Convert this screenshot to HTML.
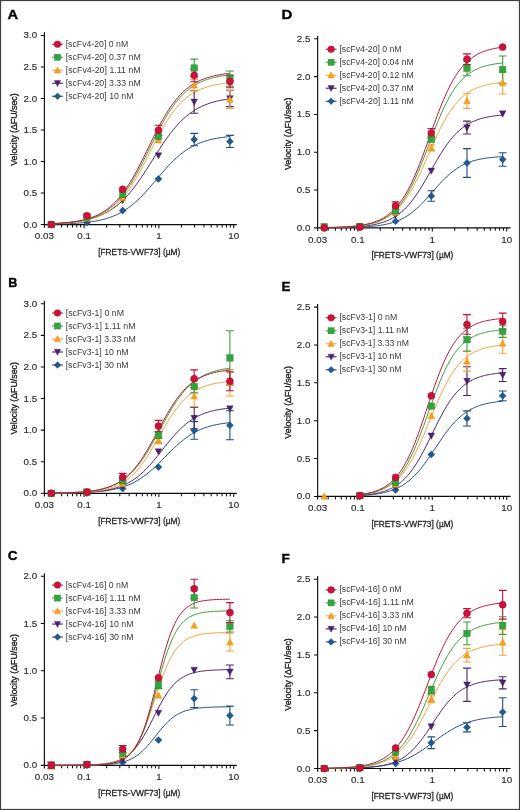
<!DOCTYPE html>
<html><head><meta charset="utf-8"><style>
html,body{margin:0;padding:0;background:#fff;}
svg{display:block;will-change:transform;font-family:"Liberation Sans",sans-serif;}
</style></head><body>
<svg width="520" height="810" viewBox="0 0 520 810">
<rect x="0.5" y="0.5" width="519" height="809" fill="#fff" stroke="#404040" stroke-width="1.25"/>
<g id="pA">
<text transform="translate(7.6 19.0) scale(1.08 1)" font-size="13.6" font-weight="bold" fill="#000" stroke="#000" stroke-width="0.35">A</text>
<path d="M44.4 32.3V227.75M44.4 224.55H236.8" stroke="#0d0d0d" stroke-width="1.15" fill="none"/>
<path d="M40.8 224.55H44.4M40.8 193.03H44.4M40.8 161.5H44.4M40.8 129.98H44.4M40.8 98.45H44.4M40.8 66.93H44.4M40.8 35.4H44.4M54.33 224.55v3.0M61.58 224.55v3.0M67.51 224.55v3.0M72.51 224.55v3.0M76.85 224.55v3.0M80.68 224.55v3.0M84.1 224.55v3.7M106.62 224.55v3.0M119.79 224.55v3.0M129.13 224.55v3.0M136.38 224.55v3.0M142.31 224.55v3.0M147.31 224.55v3.0M151.65 224.55v3.0M155.48 224.55v3.0M158.9 224.55v3.7M181.42 224.55v3.0M194.59 224.55v3.0M203.93 224.55v3.0M211.18 224.55v3.0M217.11 224.55v3.0M222.11 224.55v3.0M226.45 224.55v3.0M230.28 224.55v3.0M233.7 224.55v3.7" stroke="#0d0d0d" stroke-width="1.05" fill="none"/>
<text x="37.199999999999996" y="227.6" font-size="9.8" text-anchor="end" fill="#2b2b2b" stroke="#2b2b2b" stroke-width="0.15">0.0</text>
<text x="37.199999999999996" y="196.08" font-size="9.8" text-anchor="end" fill="#2b2b2b" stroke="#2b2b2b" stroke-width="0.15">0.5</text>
<text x="37.199999999999996" y="164.55" font-size="9.8" text-anchor="end" fill="#2b2b2b" stroke="#2b2b2b" stroke-width="0.15">1.0</text>
<text x="37.199999999999996" y="133.03" font-size="9.8" text-anchor="end" fill="#2b2b2b" stroke="#2b2b2b" stroke-width="0.15">1.5</text>
<text x="37.199999999999996" y="101.5" font-size="9.8" text-anchor="end" fill="#2b2b2b" stroke="#2b2b2b" stroke-width="0.15">2.0</text>
<text x="37.199999999999996" y="69.98" font-size="9.8" text-anchor="end" fill="#2b2b2b" stroke="#2b2b2b" stroke-width="0.15">2.5</text>
<text x="37.199999999999996" y="38.45" font-size="9.8" text-anchor="end" fill="#2b2b2b" stroke="#2b2b2b" stroke-width="0.15">3.0</text>
<text x="44.4" y="239.4" font-size="9.8" text-anchor="middle" fill="#2b2b2b" stroke="#2b2b2b" stroke-width="0.15">0.03</text>
<text x="84.1" y="239.4" font-size="9.8" text-anchor="middle" fill="#2b2b2b" stroke="#2b2b2b" stroke-width="0.15">0.1</text>
<text x="158.9" y="239.4" font-size="9.8" text-anchor="middle" fill="#2b2b2b" stroke="#2b2b2b" stroke-width="0.15">1</text>
<text x="233.7" y="239.4" font-size="9.8" text-anchor="middle" fill="#2b2b2b" stroke="#2b2b2b" stroke-width="0.15">10</text>
<text x="139.2" y="254.95" font-size="9.7" text-anchor="middle" fill="#222" stroke="#222" stroke-width="0.3" textLength="82" lengthAdjust="spacingAndGlyphs">[FRETS-VWF73] (µM)</text>
<text transform="translate(17.2 129.55) rotate(-90)" x="0" y="0" font-size="9.4" text-anchor="middle" fill="#222" stroke="#222" stroke-width="0.35" textLength="72.5" lengthAdjust="spacingAndGlyphs">Velocity (ΔFU/sec)</text>
<polyline points="51.21,224.2 52.7,224.17 54.19,224.14 55.68,224.11 57.17,224.07 58.65,224.03 60.14,223.99 61.63,223.94 63.12,223.9 64.61,223.84 66.1,223.79 67.59,223.72 69.08,223.66 70.57,223.58 72.06,223.51 73.55,223.42 75.04,223.33 76.53,223.23 78.02,223.13 79.5,223.01 80.99,222.89 82.48,222.76 83.97,222.61 85.46,222.46 86.95,222.29 88.44,222.11 89.93,221.92 91.42,221.71 92.91,221.49 94.4,221.25 95.89,220.99 97.38,220.71 98.87,220.41 100.35,220.09 101.84,219.74 103.33,219.37 104.82,218.98 106.31,218.55 107.8,218.1 109.29,217.61 110.78,217.09 112.27,216.54 113.76,215.95 115.25,215.32 116.74,214.64 118.23,213.93 119.72,213.17 121.2,212.37 122.69,211.52 124.18,210.62 125.67,209.67 127.16,208.67 128.65,207.62 130.14,206.51 131.63,205.35 133.12,204.14 134.61,202.88 136.1,201.56 137.59,200.19 139.08,198.77 140.57,197.31 142.05,195.79 143.54,194.24 145.03,192.64 146.52,191.01 148.01,189.34 149.5,187.65 150.99,185.93 152.48,184.19 153.97,182.44 155.46,180.68 156.95,178.92 158.44,177.16 159.93,175.41 161.42,173.67 162.9,171.94 164.39,170.25 165.88,168.57 167.37,166.94 168.86,165.33 170.35,163.77 171.84,162.25 173.33,160.77 174.82,159.35 176.31,157.97 177.8,156.64 179.29,155.37 180.78,154.15 182.27,152.98 183.75,151.87 185.24,150.81 186.73,149.8 188.22,148.84 189.71,147.93 191.2,147.07 192.69,146.26 194.18,145.5 195.67,144.78 197.16,144.1 198.65,143.46 200.14,142.86 201.63,142.3 203.12,141.78 204.6,141.29 206.09,140.83 207.58,140.4 209.07,139.99 210.56,139.62 212.05,139.27 213.54,138.95 215.03,138.64 216.52,138.36 218.01,138.1 219.5,137.86 220.99,137.63 222.48,137.42 223.97,137.22 225.45,137.04 226.94,136.87 228.43,136.72 229.92,136.57" fill="none" stroke="#1f4d80" stroke-width="1.0"/>
<polyline points="51.21,223.69 52.7,223.63 54.19,223.56 55.68,223.48 57.17,223.4 58.65,223.32 60.14,223.22 61.63,223.12 63.12,223.01 64.61,222.9 66.1,222.77 67.59,222.64 69.08,222.5 70.57,222.34 72.06,222.18 73.55,222 75.04,221.81 76.53,221.6 78.02,221.38 79.5,221.15 80.99,220.89 82.48,220.62 83.97,220.33 85.46,220.02 86.95,219.69 88.44,219.33 89.93,218.95 91.42,218.54 92.91,218.1 94.4,217.63 95.89,217.14 97.38,216.6 98.87,216.04 100.35,215.43 101.84,214.79 103.33,214.1 104.82,213.37 106.31,212.59 107.8,211.77 109.29,210.9 110.78,209.97 112.27,208.99 113.76,207.95 115.25,206.86 116.74,205.7 118.23,204.49 119.72,203.21 121.2,201.86 122.69,200.45 124.18,198.98 125.67,197.43 127.16,195.82 128.65,194.15 130.14,192.4 131.63,190.59 133.12,188.72 134.61,186.79 136.1,184.79 137.59,182.74 139.08,180.64 140.57,178.48 142.05,176.28 143.54,174.04 145.03,171.77 146.52,169.46 148.01,167.13 149.5,164.78 150.99,162.42 152.48,160.06 153.97,157.69 155.46,155.33 156.95,152.99 158.44,150.67 159.93,148.37 161.42,146.1 162.9,143.87 164.39,141.68 165.88,139.54 167.37,137.45 168.86,135.41 170.35,133.43 171.84,131.51 173.33,129.65 174.82,127.86 176.31,126.13 177.8,124.47 179.29,122.88 180.78,121.35 182.27,119.89 183.75,118.49 185.24,117.17 186.73,115.9 188.22,114.7 189.71,113.56 191.2,112.48 192.69,111.46 194.18,110.49 195.67,109.58 197.16,108.72 198.65,107.91 200.14,107.14 201.63,106.42 203.12,105.75 204.6,105.11 206.09,104.52 207.58,103.96 209.07,103.43 210.56,102.94 212.05,102.48 213.54,102.05 215.03,101.65 216.52,101.28 218.01,100.93 219.5,100.6 220.99,100.29 222.48,100.01 223.97,99.74 225.45,99.49 226.94,99.26 228.43,99.04 229.92,98.84" fill="none" stroke="#4c2468" stroke-width="1.0"/>
<polyline points="51.21,223.93 52.7,223.87 54.19,223.81 55.68,223.75 57.17,223.68 58.65,223.61 60.14,223.53 61.63,223.44 63.12,223.35 64.61,223.25 66.1,223.14 67.59,223.02 69.08,222.89 70.57,222.75 72.06,222.59 73.55,222.43 75.04,222.25 76.53,222.05 78.02,221.84 79.5,221.62 80.99,221.37 82.48,221.11 83.97,220.82 85.46,220.51 86.95,220.17 88.44,219.81 89.93,219.42 91.42,218.99 92.91,218.54 94.4,218.04 95.89,217.51 97.38,216.94 98.87,216.33 100.35,215.67 101.84,214.96 103.33,214.19 104.82,213.37 106.31,212.5 107.8,211.56 109.29,210.55 110.78,209.48 112.27,208.33 113.76,207.11 115.25,205.81 116.74,204.43 118.23,202.97 119.72,201.41 121.2,199.77 122.69,198.04 124.18,196.22 125.67,194.3 127.16,192.29 128.65,190.19 130.14,188 131.63,185.71 133.12,183.34 134.61,180.88 136.1,178.34 137.59,175.73 139.08,173.05 140.57,170.31 142.05,167.51 143.54,164.66 145.03,161.77 146.52,158.86 148.01,155.92 149.5,152.97 150.99,150.03 152.48,147.09 153.97,144.17 155.46,141.28 156.95,138.43 158.44,135.63 159.93,132.88 161.42,130.19 162.9,127.57 164.39,125.03 165.88,122.57 167.37,120.19 168.86,117.9 170.35,115.7 171.84,113.59 173.33,111.57 174.82,109.65 176.31,107.81 177.8,106.08 179.29,104.43 180.78,102.87 182.27,101.4 183.75,100.01 185.24,98.71 186.73,97.48 188.22,96.33 189.71,95.25 191.2,94.24 192.69,93.29 194.18,92.41 195.67,91.59 197.16,90.82 198.65,90.11 200.14,89.44 201.63,88.82 203.12,88.25 204.6,87.71 206.09,87.22 207.58,86.76 209.07,86.33 210.56,85.94 212.05,85.58 213.54,85.24 215.03,84.92 216.52,84.63 218.01,84.37 219.5,84.12 220.99,83.89 222.48,83.68 223.97,83.49 225.45,83.3 226.94,83.14 228.43,82.98 229.92,82.84" fill="none" stroke="#f3a23a" stroke-width="1.0"/>
<polyline points="51.21,223.78 52.7,223.72 54.19,223.65 55.68,223.58 57.17,223.49 58.65,223.41 60.14,223.31 61.63,223.21 63.12,223.1 64.61,222.98 66.1,222.85 67.59,222.71 69.08,222.56 70.57,222.4 72.06,222.22 73.55,222.03 75.04,221.82 76.53,221.6 78.02,221.36 79.5,221.1 80.99,220.82 82.48,220.51 83.97,220.19 85.46,219.83 86.95,219.45 88.44,219.04 89.93,218.6 91.42,218.13 92.91,217.62 94.4,217.07 95.89,216.47 97.38,215.84 98.87,215.16 100.35,214.43 101.84,213.64 103.33,212.81 104.82,211.91 106.31,210.95 107.8,209.92 109.29,208.83 110.78,207.67 112.27,206.43 113.76,205.11 115.25,203.71 116.74,202.23 118.23,200.66 119.72,199 121.2,197.26 122.69,195.42 124.18,193.49 125.67,191.46 127.16,189.34 128.65,187.13 130.14,184.83 131.63,182.44 133.12,179.96 134.61,177.4 136.1,174.76 137.59,172.04 139.08,169.26 140.57,166.42 142.05,163.52 143.54,160.58 145.03,157.6 146.52,154.6 148.01,151.57 149.5,148.54 150.99,145.51 152.48,142.49 153.97,139.48 155.46,136.51 156.95,133.58 158.44,130.69 159.93,127.86 161.42,125.08 162.9,122.38 164.39,119.75 165.88,117.2 167.37,114.74 168.86,112.36 170.35,110.07 171.84,107.88 173.33,105.77 174.82,103.76 176.31,101.85 177.8,100.02 179.29,98.29 180.78,96.65 182.27,95.09 183.75,93.62 185.24,92.24 186.73,90.93 188.22,89.7 189.71,88.55 191.2,87.47 192.69,86.45 194.18,85.5 195.67,84.62 197.16,83.79 198.65,83.01 200.14,82.29 201.63,81.61 203.12,80.99 204.6,80.4 206.09,79.86 207.58,79.35 209.07,78.88 210.56,78.45 212.05,78.04 213.54,77.67 215.03,77.32 216.52,77 218.01,76.7 219.5,76.42 220.99,76.16 222.48,75.92 223.97,75.7 225.45,75.5 226.94,75.31 228.43,75.13 229.92,74.97" fill="none" stroke="#3a9e3a" stroke-width="1.0"/>
<polyline points="51.21,223.7 52.7,223.63 54.19,223.56 55.68,223.48 57.17,223.39 58.65,223.29 60.14,223.19 61.63,223.08 63.12,222.95 64.61,222.82 66.1,222.68 67.59,222.53 69.08,222.36 70.57,222.19 72.06,221.99 73.55,221.78 75.04,221.56 76.53,221.32 78.02,221.05 79.5,220.77 80.99,220.47 82.48,220.14 83.97,219.78 85.46,219.4 86.95,218.99 88.44,218.54 89.93,218.07 91.42,217.55 92.91,217 94.4,216.41 95.89,215.77 97.38,215.09 98.87,214.36 100.35,213.57 101.84,212.73 103.33,211.83 104.82,210.87 106.31,209.85 107.8,208.75 109.29,207.59 110.78,206.35 112.27,205.03 113.76,203.63 115.25,202.15 116.74,200.58 118.23,198.92 119.72,197.18 121.2,195.34 122.69,193.41 124.18,191.38 125.67,189.27 127.16,187.06 128.65,184.75 130.14,182.36 131.63,179.88 133.12,177.32 134.61,174.68 136.1,171.96 137.59,169.18 139.08,166.33 140.57,163.43 142.05,160.48 143.54,157.49 145.03,154.48 146.52,151.44 148.01,148.39 149.5,145.34 150.99,142.3 152.48,139.28 153.97,136.28 155.46,133.32 156.95,130.41 158.44,127.55 159.93,124.75 161.42,122.01 162.9,119.35 164.39,116.77 165.88,114.27 167.37,111.86 168.86,109.53 170.35,107.3 171.84,105.16 173.33,103.11 174.82,101.16 176.31,99.3 177.8,97.53 179.29,95.85 180.78,94.26 182.27,92.76 183.75,91.34 185.24,90 186.73,88.74 188.22,87.56 189.71,86.45 191.2,85.41 192.69,84.43 194.18,83.52 195.67,82.66 197.16,81.86 198.65,81.12 200.14,80.42 201.63,79.77 203.12,79.17 204.6,78.61 206.09,78.09 207.58,77.6 209.07,77.15 210.56,76.73 212.05,76.34 213.54,75.98 215.03,75.64 216.52,75.33 218.01,75.05 219.5,74.78 220.99,74.53 222.48,74.3 223.97,74.09 225.45,73.89 226.94,73.71 228.43,73.54 229.92,73.39" fill="none" stroke="#c0103a" stroke-width="1.0"/>
<path d="M194.19 133.38V145.74M190.29 133.38h7.8M190.29 145.74h7.8M229.92 135.33V147.44M226.02 135.33h7.8M226.02 147.44h7.8" stroke="#1f4d80" stroke-width="1.1" fill="none"/>
<path d="M194.19 90.57V113.27M190.29 90.57h7.8M190.29 113.27h7.8M229.92 90.25V106.65M226.02 90.25h7.8M226.02 106.65h7.8" stroke="#4c2468" stroke-width="1.1" fill="none"/>
<path d="M194.19 79.54V90.88M190.29 79.54h7.8M190.29 90.88h7.8M229.92 90.25V108.54M226.02 90.25h7.8M226.02 108.54h7.8" stroke="#f3a23a" stroke-width="1.1" fill="none"/>
<path d="M194.19 59.17V76.82M190.29 59.17h7.8M190.29 76.82h7.8M229.92 71.02V86.16M226.02 71.02h7.8M226.02 86.16h7.8" stroke="#3a9e3a" stroke-width="1.1" fill="none"/>
<path d="M158.45 125.31V135.4M154.55 125.31h7.8M154.55 135.4h7.8M194.19 69.07V81.68M190.29 69.07h7.8M190.29 81.68h7.8M229.92 75.12V87.73M226.02 75.12h7.8M226.02 87.73h7.8" stroke="#c0103a" stroke-width="1.1" fill="none"/>
<path d="M51.21 221.1L54.66 224.55L51.21 228L47.76 224.55Z" fill="#1f5a96" stroke="#153e6a" stroke-width="0.5"/>
<path d="M86.94 219.21L90.39 222.66L86.94 226.11L83.49 222.66Z" fill="#1f5a96" stroke="#153e6a" stroke-width="0.5"/>
<path d="M122.68 207.1L126.13 210.55L122.68 214L119.23 210.55Z" fill="#1f5a96" stroke="#153e6a" stroke-width="0.5"/>
<path d="M158.45 175.51L161.9 178.96L158.45 182.41L155 178.96Z" fill="#1f5a96" stroke="#153e6a" stroke-width="0.5"/>
<path d="M194.19 136.11L197.64 139.56L194.19 143.01L190.74 139.56Z" fill="#1f5a96" stroke="#153e6a" stroke-width="0.5"/>
<path d="M229.92 137.94L233.37 141.39L229.92 144.84L226.47 141.39Z" fill="#1f5a96" stroke="#153e6a" stroke-width="0.5"/>
<path d="M51.21 228.02L54.51 221.75L47.91 221.75Z" fill="#4e2270" stroke="#3a1656" stroke-width="0.4"/>
<path d="M86.94 222.97L90.24 216.7L83.64 216.7Z" fill="#4e2270" stroke="#3a1656" stroke-width="0.4"/>
<path d="M122.68 203.8L125.98 197.53L119.38 197.53Z" fill="#4e2270" stroke="#3a1656" stroke-width="0.4"/>
<path d="M158.45 159.04L161.75 152.77L155.15 152.77Z" fill="#4e2270" stroke="#3a1656" stroke-width="0.4"/>
<path d="M194.19 105.38L197.49 99.11L190.89 99.11Z" fill="#4e2270" stroke="#3a1656" stroke-width="0.4"/>
<path d="M229.92 101.92L233.22 95.65L226.62 95.65Z" fill="#4e2270" stroke="#3a1656" stroke-width="0.4"/>
<path d="M51.21 220.98L54.61 227.44L47.81 227.44Z" fill="#f7a11a" stroke="#e08a10" stroke-width="0.4"/>
<path d="M86.94 214.68L90.34 221.13L83.54 221.13Z" fill="#f7a11a" stroke="#e08a10" stroke-width="0.4"/>
<path d="M122.68 194.18L126.08 200.64L119.28 200.64Z" fill="#f7a11a" stroke="#e08a10" stroke-width="0.4"/>
<path d="M158.45 136.49L161.85 142.95L155.05 142.95Z" fill="#f7a11a" stroke="#e08a10" stroke-width="0.4"/>
<path d="M194.19 81.64L197.59 88.1L190.79 88.1Z" fill="#f7a11a" stroke="#e08a10" stroke-width="0.4"/>
<path d="M229.92 95.83L233.32 102.29L226.52 102.29Z" fill="#f7a11a" stroke="#e08a10" stroke-width="0.4"/>
<rect x="48.01" y="221.35" width="6.4" height="6.4" fill="#2fa73e" stroke="#1f7f2c" stroke-width="0.4"/>
<rect x="83.74" y="213.78" width="6.4" height="6.4" fill="#2fa73e" stroke="#1f7f2c" stroke-width="0.4"/>
<rect x="119.48" y="191.21" width="6.4" height="6.4" fill="#2fa73e" stroke="#1f7f2c" stroke-width="0.4"/>
<rect x="155.25" y="133.4" width="6.4" height="6.4" fill="#2fa73e" stroke="#1f7f2c" stroke-width="0.4"/>
<rect x="190.99" y="64.8" width="6.4" height="6.4" fill="#2fa73e" stroke="#1f7f2c" stroke-width="0.4"/>
<rect x="226.72" y="75.39" width="6.4" height="6.4" fill="#2fa73e" stroke="#1f7f2c" stroke-width="0.4"/>
<circle cx="51.21" cy="224.55" r="3.5" fill="#d0103a" stroke="#9c0c2a" stroke-width="0.5"/>
<circle cx="86.94" cy="215.72" r="3.5" fill="#d0103a" stroke="#9c0c2a" stroke-width="0.5"/>
<circle cx="122.68" cy="189.37" r="3.5" fill="#d0103a" stroke="#9c0c2a" stroke-width="0.5"/>
<circle cx="158.45" cy="130.35" r="3.5" fill="#d0103a" stroke="#9c0c2a" stroke-width="0.5"/>
<circle cx="194.19" cy="75.37" r="3.5" fill="#d0103a" stroke="#9c0c2a" stroke-width="0.5"/>
<circle cx="229.92" cy="81.43" r="3.5" fill="#d0103a" stroke="#9c0c2a" stroke-width="0.5"/>
<path d="M52.1 44.25H62.9" stroke="#c0103a" stroke-width="1.1"/>
<circle cx="57.5" cy="44.25" r="3.32" fill="#d0103a" stroke="#9c0c2a" stroke-width="0.5"/>
<text x="65.7" y="46.8" font-size="8.3" fill="#3a3a3a" textLength="62.5" lengthAdjust="spacingAndGlyphs">[scFv4-20] 0 nM</text>
<path d="M52.1 57.25H62.9" stroke="#3a9e3a" stroke-width="1.1"/>
<rect x="54.46" y="54.21" width="6.08" height="6.08" fill="#2fa73e" stroke="#1f7f2c" stroke-width="0.4"/>
<text x="65.7" y="59.8" font-size="8.3" fill="#3a3a3a" textLength="75.0" lengthAdjust="spacingAndGlyphs">[scFv4-20] 0.37 nM</text>
<path d="M52.1 70.25H62.9" stroke="#f3a23a" stroke-width="1.1"/>
<path d="M57.5 66.86L60.73 73L54.27 73Z" fill="#f7a11a" stroke="#e08a10" stroke-width="0.4"/>
<text x="65.7" y="72.8" font-size="8.3" fill="#3a3a3a" textLength="75.0" lengthAdjust="spacingAndGlyphs">[scFv4-20] 1.11 nM</text>
<path d="M52.1 83.25H62.9" stroke="#4c2468" stroke-width="1.1"/>
<path d="M57.5 86.54L60.63 80.59L54.37 80.59Z" fill="#4e2270" stroke="#3a1656" stroke-width="0.4"/>
<text x="65.7" y="85.8" font-size="8.3" fill="#3a3a3a" textLength="75.0" lengthAdjust="spacingAndGlyphs">[scFv4-20] 3.33 nM</text>
<path d="M52.1 96.25H62.9" stroke="#1f4d80" stroke-width="1.1"/>
<path d="M57.5 92.97L60.78 96.25L57.5 99.53L54.22 96.25Z" fill="#1f5a96" stroke="#153e6a" stroke-width="0.5"/>
<text x="65.7" y="98.8" font-size="8.3" fill="#3a3a3a" textLength="67.9" lengthAdjust="spacingAndGlyphs">[scFv4-20] 10 nM</text>
</g>
<g id="pB">
<text transform="translate(8.2 287.3) scale(0.93 1)" font-size="13.6" font-weight="bold" fill="#000" stroke="#000" stroke-width="0.35">B</text>
<path d="M44.4 300.7V496.5M44.4 493.3H236.8" stroke="#0d0d0d" stroke-width="1.15" fill="none"/>
<path d="M40.8 493.3H44.4M40.8 461.72H44.4M40.8 430.13H44.4M40.8 398.55H44.4M40.8 366.97H44.4M40.8 335.38H44.4M40.8 303.8H44.4M54.33 493.3v3.0M61.58 493.3v3.0M67.51 493.3v3.0M72.51 493.3v3.0M76.85 493.3v3.0M80.68 493.3v3.0M84.1 493.3v3.7M106.62 493.3v3.0M119.79 493.3v3.0M129.13 493.3v3.0M136.38 493.3v3.0M142.31 493.3v3.0M147.31 493.3v3.0M151.65 493.3v3.0M155.48 493.3v3.0M158.9 493.3v3.7M181.42 493.3v3.0M194.59 493.3v3.0M203.93 493.3v3.0M211.18 493.3v3.0M217.11 493.3v3.0M222.11 493.3v3.0M226.45 493.3v3.0M230.28 493.3v3.0M233.7 493.3v3.7" stroke="#0d0d0d" stroke-width="1.05" fill="none"/>
<text x="37.199999999999996" y="496.35" font-size="9.8" text-anchor="end" fill="#2b2b2b" stroke="#2b2b2b" stroke-width="0.15">0.0</text>
<text x="37.199999999999996" y="464.77" font-size="9.8" text-anchor="end" fill="#2b2b2b" stroke="#2b2b2b" stroke-width="0.15">0.5</text>
<text x="37.199999999999996" y="433.18" font-size="9.8" text-anchor="end" fill="#2b2b2b" stroke="#2b2b2b" stroke-width="0.15">1.0</text>
<text x="37.199999999999996" y="401.6" font-size="9.8" text-anchor="end" fill="#2b2b2b" stroke="#2b2b2b" stroke-width="0.15">1.5</text>
<text x="37.199999999999996" y="370.02" font-size="9.8" text-anchor="end" fill="#2b2b2b" stroke="#2b2b2b" stroke-width="0.15">2.0</text>
<text x="37.199999999999996" y="338.43" font-size="9.8" text-anchor="end" fill="#2b2b2b" stroke="#2b2b2b" stroke-width="0.15">2.5</text>
<text x="37.199999999999996" y="306.85" font-size="9.8" text-anchor="end" fill="#2b2b2b" stroke="#2b2b2b" stroke-width="0.15">3.0</text>
<text x="44.4" y="508.15" font-size="9.8" text-anchor="middle" fill="#2b2b2b" stroke="#2b2b2b" stroke-width="0.15">0.03</text>
<text x="84.1" y="508.15" font-size="9.8" text-anchor="middle" fill="#2b2b2b" stroke="#2b2b2b" stroke-width="0.15">0.1</text>
<text x="158.9" y="508.15" font-size="9.8" text-anchor="middle" fill="#2b2b2b" stroke="#2b2b2b" stroke-width="0.15">1</text>
<text x="233.7" y="508.15" font-size="9.8" text-anchor="middle" fill="#2b2b2b" stroke="#2b2b2b" stroke-width="0.15">10</text>
<text x="139.2" y="523.7" font-size="9.7" text-anchor="middle" fill="#222" stroke="#222" stroke-width="0.3" textLength="82" lengthAdjust="spacingAndGlyphs">[FRETS-VWF73] (µM)</text>
<text transform="translate(17.2 398.3) rotate(-90)" x="0" y="0" font-size="9.4" text-anchor="middle" fill="#222" stroke="#222" stroke-width="0.35" textLength="72.5" lengthAdjust="spacingAndGlyphs">Velocity (ΔFU/sec)</text>
<polyline points="51.21,493.17 52.7,493.16 54.19,493.15 55.68,493.14 57.17,493.12 58.65,493.11 60.14,493.09 61.63,493.07 63.12,493.05 64.61,493.03 66.1,493.01 67.59,492.99 69.08,492.96 70.57,492.93 72.06,492.9 73.55,492.86 75.04,492.82 76.53,492.78 78.02,492.74 79.5,492.69 80.99,492.64 82.48,492.58 83.97,492.52 85.46,492.45 86.95,492.38 88.44,492.3 89.93,492.22 91.42,492.12 92.91,492.02 94.4,491.92 95.89,491.8 97.38,491.67 98.87,491.53 100.35,491.38 101.84,491.22 103.33,491.05 104.82,490.86 106.31,490.66 107.8,490.44 109.29,490.2 110.78,489.94 112.27,489.67 113.76,489.37 115.25,489.05 116.74,488.7 118.23,488.33 119.72,487.94 121.2,487.51 122.69,487.05 124.18,486.56 125.67,486.03 127.16,485.47 128.65,484.87 130.14,484.23 131.63,483.55 133.12,482.83 134.61,482.06 136.1,481.25 137.59,480.39 139.08,479.49 140.57,478.53 142.05,477.53 143.54,476.48 145.03,475.39 146.52,474.24 148.01,473.05 149.5,471.82 150.99,470.54 152.48,469.22 153.97,467.87 155.46,466.48 156.95,465.06 158.44,463.61 159.93,462.15 161.42,460.66 162.9,459.16 164.39,457.66 165.88,456.15 167.37,454.65 168.86,453.15 170.35,451.67 171.84,450.21 173.33,448.76 174.82,447.35 176.31,445.96 177.8,444.61 179.29,443.3 180.78,442.03 182.27,440.8 183.75,439.62 185.24,438.48 186.73,437.39 188.22,436.35 189.71,435.36 191.2,434.41 192.69,433.51 194.18,432.66 195.67,431.86 197.16,431.1 198.65,430.38 200.14,429.71 201.63,429.07 203.12,428.48 204.6,427.92 206.09,427.4 207.58,426.92 209.07,426.46 210.56,426.04 212.05,425.64 213.54,425.28 215.03,424.94 216.52,424.62 218.01,424.33 219.5,424.05 220.99,423.8 222.48,423.56 223.97,423.35 225.45,423.15 226.94,422.96 228.43,422.79 229.92,422.63" fill="none" stroke="#1f4d80" stroke-width="1.0"/>
<polyline points="51.21,493.17 52.7,493.16 54.19,493.14 55.68,493.13 57.17,493.11 58.65,493.1 60.14,493.08 61.63,493.06 63.12,493.04 64.61,493.01 66.1,492.99 67.59,492.96 69.08,492.93 70.57,492.89 72.06,492.86 73.55,492.82 75.04,492.77 76.53,492.73 78.02,492.67 79.5,492.62 80.99,492.56 82.48,492.49 83.97,492.42 85.46,492.34 86.95,492.25 88.44,492.16 89.93,492.05 91.42,491.94 92.91,491.82 94.4,491.69 95.89,491.55 97.38,491.39 98.87,491.22 100.35,491.04 101.84,490.84 103.33,490.62 104.82,490.39 106.31,490.13 107.8,489.85 109.29,489.55 110.78,489.23 112.27,488.88 113.76,488.5 115.25,488.09 116.74,487.65 118.23,487.17 119.72,486.66 121.2,486.1 122.69,485.51 124.18,484.87 125.67,484.18 127.16,483.45 128.65,482.66 130.14,481.82 131.63,480.93 133.12,479.98 134.61,478.97 136.1,477.9 137.59,476.76 139.08,475.57 140.57,474.31 142.05,472.99 143.54,471.6 145.03,470.15 146.52,468.65 148.01,467.09 149.5,465.47 150.99,463.8 152.48,462.08 153.97,460.32 155.46,458.53 156.95,456.7 158.44,454.85 159.93,452.97 161.42,451.09 162.9,449.2 164.39,447.32 165.88,445.45 167.37,443.59 168.86,441.75 170.35,439.95 171.84,438.18 173.33,436.45 174.82,434.77 176.31,433.13 177.8,431.56 179.29,430.03 180.78,428.57 182.27,427.17 183.75,425.83 185.24,424.56 186.73,423.34 188.22,422.19 189.71,421.11 191.2,420.08 192.69,419.11 194.18,418.2 195.67,417.35 197.16,416.55 198.65,415.8 200.14,415.1 201.63,414.45 203.12,413.84 204.6,413.28 206.09,412.75 207.58,412.27 209.07,411.82 210.56,411.4 212.05,411.01 213.54,410.65 215.03,410.32 216.52,410.01 218.01,409.73 219.5,409.47 220.99,409.23 222.48,409.01 223.97,408.8 225.45,408.62 226.94,408.44 228.43,408.28 229.92,408.14" fill="none" stroke="#4c2468" stroke-width="1.0"/>
<polyline points="51.21,493.17 52.7,493.15 54.19,493.14 55.68,493.12 57.17,493.11 58.65,493.09 60.14,493.07 61.63,493.04 63.12,493.02 64.61,492.99 66.1,492.96 67.59,492.93 69.08,492.89 70.57,492.85 72.06,492.81 73.55,492.76 75.04,492.71 76.53,492.65 78.02,492.59 79.5,492.52 80.99,492.45 82.48,492.36 83.97,492.27 85.46,492.17 86.95,492.06 88.44,491.95 89.93,491.82 91.42,491.67 92.91,491.52 94.4,491.34 95.89,491.16 97.38,490.95 98.87,490.73 100.35,490.48 101.84,490.22 103.33,489.92 104.82,489.61 106.31,489.26 107.8,488.88 109.29,488.46 110.78,488.01 112.27,487.52 113.76,486.99 115.25,486.41 116.74,485.79 118.23,485.11 119.72,484.37 121.2,483.57 122.69,482.71 124.18,481.78 125.67,480.78 127.16,479.71 128.65,478.55 130.14,477.31 131.63,475.99 133.12,474.58 134.61,473.08 136.1,471.49 137.59,469.8 139.08,468.02 140.57,466.14 142.05,464.17 143.54,462.11 145.03,459.97 146.52,457.73 148.01,455.42 149.5,453.04 150.99,450.6 152.48,448.09 153.97,445.54 155.46,442.95 156.95,440.34 158.44,437.71 159.93,435.08 161.42,432.45 162.9,429.84 164.39,427.27 165.88,424.73 167.37,422.24 168.86,419.81 170.35,417.45 171.84,415.16 173.33,412.95 174.82,410.83 176.31,408.79 177.8,406.85 179.29,405 180.78,403.24 182.27,401.58 183.75,400.01 185.24,398.54 186.73,397.15 188.22,395.85 189.71,394.64 191.2,393.51 192.69,392.45 194.18,391.47 195.67,390.56 197.16,389.72 198.65,388.94 200.14,388.22 201.63,387.55 203.12,386.94 204.6,386.37 206.09,385.85 207.58,385.37 209.07,384.93 210.56,384.53 212.05,384.16 213.54,383.82 215.03,383.51 216.52,383.22 218.01,382.96 219.5,382.72 220.99,382.51 222.48,382.31 223.97,382.12 225.45,381.96 226.94,381.8 228.43,381.66 229.92,381.54" fill="none" stroke="#f3a23a" stroke-width="1.0"/>
<polyline points="51.21,493.07 52.7,493.04 54.19,493.02 55.68,493 57.17,492.97 58.65,492.94 60.14,492.91 61.63,492.87 63.12,492.83 64.61,492.79 66.1,492.75 67.59,492.7 69.08,492.64 70.57,492.58 72.06,492.52 73.55,492.45 75.04,492.37 76.53,492.29 78.02,492.2 79.5,492.1 80.99,492 82.48,491.88 83.97,491.75 85.46,491.62 86.95,491.47 88.44,491.3 89.93,491.13 91.42,490.93 92.91,490.73 94.4,490.5 95.89,490.25 97.38,489.99 98.87,489.7 100.35,489.38 101.84,489.04 103.33,488.67 104.82,488.27 106.31,487.84 107.8,487.37 109.29,486.86 110.78,486.31 112.27,485.72 113.76,485.08 115.25,484.39 116.74,483.65 118.23,482.85 119.72,482 121.2,481.08 122.69,480.09 124.18,479.03 125.67,477.9 127.16,476.7 128.65,475.41 130.14,474.05 131.63,472.59 133.12,471.06 134.61,469.43 136.1,467.71 137.59,465.9 139.08,464 140.57,462.01 142.05,459.94 143.54,457.77 145.03,455.52 146.52,453.19 148.01,450.79 149.5,448.31 150.99,445.77 152.48,443.18 153.97,440.54 155.46,437.86 156.95,435.14 158.44,432.41 159.93,429.67 161.42,426.93 162.9,424.2 164.39,421.49 165.88,418.81 167.37,416.17 168.86,413.57 170.35,411.04 171.84,408.56 173.33,406.16 174.82,403.83 176.31,401.58 177.8,399.42 179.29,397.34 180.78,395.35 182.27,393.45 183.75,391.65 185.24,389.93 186.73,388.3 188.22,386.77 189.71,385.32 191.2,383.95 192.69,382.67 194.18,381.46 195.67,380.33 197.16,379.28 198.65,378.29 200.14,377.37 201.63,376.52 203.12,375.72 204.6,374.98 206.09,374.29 207.58,373.65 209.07,373.06 210.56,372.51 212.05,372.01 213.54,371.54 215.03,371.1 216.52,370.7 218.01,370.34 219.5,369.99 220.99,369.68 222.48,369.39 223.97,369.12 225.45,368.88 226.94,368.65 228.43,368.44 229.92,368.25" fill="none" stroke="#3a9e3a" stroke-width="1.0"/>
<polyline points="51.21,493.09 52.7,493.07 54.19,493.05 55.68,493.03 57.17,493 58.65,492.97 60.14,492.94 61.63,492.91 63.12,492.87 64.61,492.83 66.1,492.79 67.59,492.74 69.08,492.69 70.57,492.63 72.06,492.57 73.55,492.51 75.04,492.43 76.53,492.35 78.02,492.26 79.5,492.17 80.99,492.06 82.48,491.95 83.97,491.83 85.46,491.69 86.95,491.54 88.44,491.38 89.93,491.2 91.42,491.01 92.91,490.8 94.4,490.58 95.89,490.33 97.38,490.06 98.87,489.76 100.35,489.45 101.84,489.1 103.33,488.72 104.82,488.31 106.31,487.86 107.8,487.38 109.29,486.86 110.78,486.29 112.27,485.68 113.76,485.01 115.25,484.3 116.74,483.52 118.23,482.69 119.72,481.79 121.2,480.82 122.69,479.79 124.18,478.67 125.67,477.48 127.16,476.21 128.65,474.85 130.14,473.41 131.63,471.87 133.12,470.24 134.61,468.52 136.1,466.7 137.59,464.78 139.08,462.78 140.57,460.67 142.05,458.48 143.54,456.2 145.03,453.83 146.52,451.39 148.01,448.87 149.5,446.29 150.99,443.65 152.48,440.96 153.97,438.23 155.46,435.47 156.95,432.7 158.44,429.92 159.93,427.14 161.42,424.38 162.9,421.64 164.39,418.94 165.88,416.28 167.37,413.68 168.86,411.14 170.35,408.68 171.84,406.29 173.33,403.98 174.82,401.76 176.31,399.63 177.8,397.59 179.29,395.65 180.78,393.8 182.27,392.05 183.75,390.39 185.24,388.83 186.73,387.36 188.22,385.97 189.71,384.67 191.2,383.46 192.69,382.32 194.18,381.26 195.67,380.28 197.16,379.36 198.65,378.51 200.14,377.71 201.63,376.98 203.12,376.3 204.6,375.67 206.09,375.09 207.58,374.56 209.07,374.06 210.56,373.61 212.05,373.19 213.54,372.8 215.03,372.44 216.52,372.11 218.01,371.81 219.5,371.54 220.99,371.28 222.48,371.05 223.97,370.83 225.45,370.64 226.94,370.46 228.43,370.29 229.92,370.14" fill="none" stroke="#c0103a" stroke-width="1.0"/>
<path d="M194.19 421.61V439.29M190.29 421.61h7.8M190.29 439.29h7.8M229.92 410.74V439.8M226.02 410.74h7.8M226.02 439.8h7.8" stroke="#1f4d80" stroke-width="1.1" fill="none"/>
<path d="M194.19 407.39V428.87M190.29 407.39h7.8M190.29 428.87h7.8" stroke="#4c2468" stroke-width="1.1" fill="none"/>
<path d="M158.45 437.08V443.4M154.55 437.08h7.8M154.55 443.4h7.8M194.19 385.29V406.76M190.29 385.29h7.8M190.29 406.76h7.8M229.92 369.49V396.02M226.02 369.49h7.8M226.02 396.02h7.8" stroke="#f3a23a" stroke-width="1.1" fill="none"/>
<path d="M158.45 432.03V438.35M154.55 432.03h7.8M154.55 438.35h7.8M194.19 380.23V392.87M190.29 380.23h7.8M190.29 392.87h7.8M229.92 330.77V385.1M226.02 330.77h7.8M226.02 385.1h7.8" stroke="#3a9e3a" stroke-width="1.1" fill="none"/>
<path d="M122.68 473.4V480.98M118.78 473.4h7.8M118.78 480.98h7.8M158.45 420.41V431.78M154.55 420.41h7.8M154.55 431.78h7.8M194.19 369.87V387.56M190.29 369.87h7.8M190.29 387.56h7.8M229.92 371.83V390.78M226.02 371.83h7.8M226.02 390.78h7.8" stroke="#c0103a" stroke-width="1.1" fill="none"/>
<path d="M51.21 489.85L54.66 493.3L51.21 496.75L47.76 493.3Z" fill="#1f5a96" stroke="#153e6a" stroke-width="0.5"/>
<path d="M86.94 489.53L90.39 492.98L86.94 496.43L83.49 492.98Z" fill="#1f5a96" stroke="#153e6a" stroke-width="0.5"/>
<path d="M122.68 485.11L126.13 488.56L122.68 492.01L119.23 488.56Z" fill="#1f5a96" stroke="#153e6a" stroke-width="0.5"/>
<path d="M158.45 463.64L161.9 467.09L158.45 470.54L155 467.09Z" fill="#1f5a96" stroke="#153e6a" stroke-width="0.5"/>
<path d="M194.19 427L197.64 430.45L194.19 433.9L190.74 430.45Z" fill="#1f5a96" stroke="#153e6a" stroke-width="0.5"/>
<path d="M229.92 421.82L233.37 425.27L229.92 428.72L226.47 425.27Z" fill="#1f5a96" stroke="#153e6a" stroke-width="0.5"/>
<path d="M51.21 496.76L54.51 490.5L47.91 490.5Z" fill="#4e2270" stroke="#3a1656" stroke-width="0.4"/>
<path d="M86.94 496.13L90.24 489.86L83.64 489.86Z" fill="#4e2270" stroke="#3a1656" stroke-width="0.4"/>
<path d="M122.68 489.19L125.98 482.92L119.38 482.92Z" fill="#4e2270" stroke="#3a1656" stroke-width="0.4"/>
<path d="M158.45 455.07L161.75 448.81L155.15 448.81Z" fill="#4e2270" stroke="#3a1656" stroke-width="0.4"/>
<path d="M194.19 421.6L197.49 415.33L190.89 415.33Z" fill="#4e2270" stroke="#3a1656" stroke-width="0.4"/>
<path d="M229.92 412.12L233.22 405.85L226.62 405.85Z" fill="#4e2270" stroke="#3a1656" stroke-width="0.4"/>
<path d="M51.21 489.73L54.61 496.19L47.81 496.19Z" fill="#f7a11a" stroke="#e08a10" stroke-width="0.4"/>
<path d="M86.94 489.1L90.34 495.56L83.54 495.56Z" fill="#f7a11a" stroke="#e08a10" stroke-width="0.4"/>
<path d="M122.68 480.25L126.08 486.71L119.28 486.71Z" fill="#f7a11a" stroke="#e08a10" stroke-width="0.4"/>
<path d="M158.45 436.67L161.85 443.13L155.05 443.13Z" fill="#f7a11a" stroke="#e08a10" stroke-width="0.4"/>
<path d="M194.19 392.45L197.59 398.91L190.79 398.91Z" fill="#f7a11a" stroke="#e08a10" stroke-width="0.4"/>
<path d="M229.92 379.19L233.32 385.65L226.52 385.65Z" fill="#f7a11a" stroke="#e08a10" stroke-width="0.4"/>
<rect x="48.01" y="490.1" width="6.4" height="6.4" fill="#2fa73e" stroke="#1f7f2c" stroke-width="0.4"/>
<rect x="83.74" y="488.84" width="6.4" height="6.4" fill="#2fa73e" stroke="#1f7f2c" stroke-width="0.4"/>
<rect x="119.48" y="477.47" width="6.4" height="6.4" fill="#2fa73e" stroke="#1f7f2c" stroke-width="0.4"/>
<rect x="155.25" y="431.99" width="6.4" height="6.4" fill="#2fa73e" stroke="#1f7f2c" stroke-width="0.4"/>
<rect x="190.99" y="383.35" width="6.4" height="6.4" fill="#2fa73e" stroke="#1f7f2c" stroke-width="0.4"/>
<rect x="226.72" y="354.73" width="6.4" height="6.4" fill="#2fa73e" stroke="#1f7f2c" stroke-width="0.4"/>
<circle cx="51.21" cy="493.3" r="3.5" fill="#d0103a" stroke="#9c0c2a" stroke-width="0.5"/>
<circle cx="86.94" cy="492.04" r="3.5" fill="#d0103a" stroke="#9c0c2a" stroke-width="0.5"/>
<circle cx="122.68" cy="477.19" r="3.5" fill="#d0103a" stroke="#9c0c2a" stroke-width="0.5"/>
<circle cx="158.45" cy="426.09" r="3.5" fill="#d0103a" stroke="#9c0c2a" stroke-width="0.5"/>
<circle cx="194.19" cy="378.72" r="3.5" fill="#d0103a" stroke="#9c0c2a" stroke-width="0.5"/>
<circle cx="229.92" cy="381.31" r="3.5" fill="#d0103a" stroke="#9c0c2a" stroke-width="0.5"/>
<path d="M52.1 313H62.9" stroke="#c0103a" stroke-width="1.1"/>
<circle cx="57.5" cy="313" r="3.32" fill="#d0103a" stroke="#9c0c2a" stroke-width="0.5"/>
<text x="65.7" y="315.55" font-size="8.3" fill="#3a3a3a" textLength="58.3" lengthAdjust="spacingAndGlyphs">[scFv3-1] 0 nM</text>
<path d="M52.1 326H62.9" stroke="#3a9e3a" stroke-width="1.1"/>
<rect x="54.46" y="322.96" width="6.08" height="6.08" fill="#2fa73e" stroke="#1f7f2c" stroke-width="0.4"/>
<text x="65.7" y="328.55" font-size="8.3" fill="#3a3a3a" textLength="69.8" lengthAdjust="spacingAndGlyphs">[scFv3-1] 1.11 nM</text>
<path d="M52.1 339H62.9" stroke="#f3a23a" stroke-width="1.1"/>
<path d="M57.5 335.61L60.73 341.75L54.27 341.75Z" fill="#f7a11a" stroke="#e08a10" stroke-width="0.4"/>
<text x="65.7" y="341.55" font-size="8.3" fill="#3a3a3a" textLength="70.2" lengthAdjust="spacingAndGlyphs">[scFv3-1] 3.33 nM</text>
<path d="M52.1 352H62.9" stroke="#4c2468" stroke-width="1.1"/>
<path d="M57.5 355.29L60.63 349.34L54.37 349.34Z" fill="#4e2270" stroke="#3a1656" stroke-width="0.4"/>
<text x="65.7" y="354.55" font-size="8.3" fill="#3a3a3a" textLength="62.9" lengthAdjust="spacingAndGlyphs">[scFv3-1] 10 nM</text>
<path d="M52.1 365H62.9" stroke="#1f4d80" stroke-width="1.1"/>
<path d="M57.5 361.72L60.78 365L57.5 368.28L54.22 365Z" fill="#1f5a96" stroke="#153e6a" stroke-width="0.5"/>
<text x="65.7" y="367.55" font-size="8.3" fill="#3a3a3a" textLength="62.9" lengthAdjust="spacingAndGlyphs">[scFv3-1] 30 nM</text>
</g>
<g id="pC">
<text transform="translate(7.699999999999999 559.7) scale(1.0 1)" font-size="13.6" font-weight="bold" fill="#000" stroke="#000" stroke-width="0.35">C</text>
<path d="M44.4 573.1999999999999V768.5500000000001M44.4 765.35H236.8" stroke="#0d0d0d" stroke-width="1.15" fill="none"/>
<path d="M40.8 765.35H44.4M40.8 718.09H44.4M40.8 670.83H44.4M40.8 623.56H44.4M40.8 576.3H44.4M54.33 765.35v3.0M61.58 765.35v3.0M67.51 765.35v3.0M72.51 765.35v3.0M76.85 765.35v3.0M80.68 765.35v3.0M84.1 765.35v3.7M106.62 765.35v3.0M119.79 765.35v3.0M129.13 765.35v3.0M136.38 765.35v3.0M142.31 765.35v3.0M147.31 765.35v3.0M151.65 765.35v3.0M155.48 765.35v3.0M158.9 765.35v3.7M181.42 765.35v3.0M194.59 765.35v3.0M203.93 765.35v3.0M211.18 765.35v3.0M217.11 765.35v3.0M222.11 765.35v3.0M226.45 765.35v3.0M230.28 765.35v3.0M233.7 765.35v3.7" stroke="#0d0d0d" stroke-width="1.05" fill="none"/>
<text x="37.199999999999996" y="768.4" font-size="9.8" text-anchor="end" fill="#2b2b2b" stroke="#2b2b2b" stroke-width="0.15">0.0</text>
<text x="37.199999999999996" y="721.14" font-size="9.8" text-anchor="end" fill="#2b2b2b" stroke="#2b2b2b" stroke-width="0.15">0.5</text>
<text x="37.199999999999996" y="673.88" font-size="9.8" text-anchor="end" fill="#2b2b2b" stroke="#2b2b2b" stroke-width="0.15">1.0</text>
<text x="37.199999999999996" y="626.61" font-size="9.8" text-anchor="end" fill="#2b2b2b" stroke="#2b2b2b" stroke-width="0.15">1.5</text>
<text x="37.199999999999996" y="579.35" font-size="9.8" text-anchor="end" fill="#2b2b2b" stroke="#2b2b2b" stroke-width="0.15">2.0</text>
<text x="44.4" y="780.2" font-size="9.8" text-anchor="middle" fill="#2b2b2b" stroke="#2b2b2b" stroke-width="0.15">0.03</text>
<text x="84.1" y="780.2" font-size="9.8" text-anchor="middle" fill="#2b2b2b" stroke="#2b2b2b" stroke-width="0.15">0.1</text>
<text x="158.9" y="780.2" font-size="9.8" text-anchor="middle" fill="#2b2b2b" stroke="#2b2b2b" stroke-width="0.15">1</text>
<text x="233.7" y="780.2" font-size="9.8" text-anchor="middle" fill="#2b2b2b" stroke="#2b2b2b" stroke-width="0.15">10</text>
<text x="139.2" y="795.75" font-size="9.7" text-anchor="middle" fill="#222" stroke="#222" stroke-width="0.3" textLength="82" lengthAdjust="spacingAndGlyphs">[FRETS-VWF73] (µM)</text>
<text transform="translate(17.2 670.35) rotate(-90)" x="0" y="0" font-size="9.4" text-anchor="middle" fill="#222" stroke="#222" stroke-width="0.35" textLength="72.5" lengthAdjust="spacingAndGlyphs">Velocity (ΔFU/sec)</text>
<polyline points="51.21,765.34 52.7,765.34 54.19,765.34 55.68,765.34 57.17,765.34 58.65,765.34 60.14,765.33 61.63,765.33 63.12,765.33 64.61,765.33 66.1,765.32 67.59,765.32 69.08,765.32 70.57,765.31 72.06,765.31 73.55,765.3 75.04,765.29 76.53,765.29 78.02,765.28 79.5,765.27 80.99,765.26 82.48,765.24 83.97,765.23 85.46,765.21 86.95,765.19 88.44,765.17 89.93,765.15 91.42,765.12 92.91,765.09 94.4,765.05 95.89,765.01 97.38,764.97 98.87,764.91 100.35,764.86 101.84,764.79 103.33,764.71 104.82,764.63 106.31,764.53 107.8,764.42 109.29,764.29 110.78,764.15 112.27,763.99 113.76,763.81 115.25,763.6 116.74,763.37 118.23,763.11 119.72,762.81 121.2,762.48 122.69,762.11 124.18,761.69 125.67,761.23 127.16,760.71 128.65,760.13 130.14,759.48 131.63,758.77 133.12,757.98 134.61,757.11 136.1,756.15 137.59,755.11 139.08,753.98 140.57,752.76 142.05,751.44 143.54,750.03 145.03,748.53 146.52,746.95 148.01,745.29 149.5,743.56 150.99,741.77 152.48,739.94 153.97,738.07 155.46,736.19 156.95,734.31 158.44,732.44 159.93,730.6 161.42,728.8 162.9,727.06 164.39,725.39 165.88,723.79 167.37,722.28 168.86,720.85 170.35,719.52 171.84,718.28 173.33,717.13 174.82,716.07 176.31,715.1 177.8,714.22 179.29,713.42 180.78,712.69 182.27,712.03 183.75,711.44 185.24,710.91 186.73,710.44 188.22,710.01 189.71,709.63 191.2,709.29 192.69,708.99 194.18,708.73 195.67,708.49 197.16,708.28 198.65,708.09 200.14,707.93 201.63,707.78 203.12,707.66 204.6,707.54 206.09,707.44 207.58,707.35 209.07,707.28 210.56,707.21 212.05,707.15 213.54,707.09 215.03,707.05 216.52,707 218.01,706.97 219.5,706.94 220.99,706.91 222.48,706.88 223.97,706.86 225.45,706.84 226.94,706.83 228.43,706.81 229.92,706.8" fill="none" stroke="#1f4d80" stroke-width="1.0"/>
<polyline points="51.21,765.33 52.7,765.33 54.19,765.33 55.68,765.32 57.17,765.32 58.65,765.31 60.14,765.31 61.63,765.31 63.12,765.3 64.61,765.29 66.1,765.28 67.59,765.28 69.08,765.27 70.57,765.26 72.06,765.24 73.55,765.23 75.04,765.21 76.53,765.19 78.02,765.17 79.5,765.15 80.99,765.12 82.48,765.1 83.97,765.06 85.46,765.02 86.95,764.98 88.44,764.93 89.93,764.88 91.42,764.81 92.91,764.74 94.4,764.67 95.89,764.58 97.38,764.47 98.87,764.36 100.35,764.23 101.84,764.08 103.33,763.92 104.82,763.73 106.31,763.52 107.8,763.29 109.29,763.02 110.78,762.72 112.27,762.39 113.76,762.01 115.25,761.59 116.74,761.11 118.23,760.58 119.72,759.98 121.2,759.32 122.69,758.58 124.18,757.75 125.67,756.84 127.16,755.83 128.65,754.71 130.14,753.48 131.63,752.13 133.12,750.65 134.61,749.04 136.1,747.29 137.59,745.4 139.08,743.37 140.57,741.19 142.05,738.88 143.54,736.44 145.03,733.88 146.52,731.2 148.01,728.42 149.5,725.57 150.99,722.66 152.48,719.7 153.97,716.73 155.46,713.76 156.95,710.82 158.44,707.93 159.93,705.11 161.42,702.38 162.9,699.76 164.39,697.25 165.88,694.86 167.37,692.62 168.86,690.51 170.35,688.54 171.84,686.72 173.33,685.03 174.82,683.48 176.31,682.06 177.8,680.77 179.29,679.59 180.78,678.52 182.27,677.55 183.75,676.68 185.24,675.9 186.73,675.19 188.22,674.56 189.71,673.99 191.2,673.49 192.69,673.04 194.18,672.64 195.67,672.28 197.16,671.96 198.65,671.68 200.14,671.42 201.63,671.2 203.12,671 204.6,670.83 206.09,670.67 207.58,670.53 209.07,670.41 210.56,670.3 212.05,670.21 213.54,670.12 215.03,670.05 216.52,669.98 218.01,669.92 219.5,669.87 220.99,669.82 222.48,669.78 223.97,669.75 225.45,669.71 226.94,669.69 228.43,669.66 229.92,669.64" fill="none" stroke="#4c2468" stroke-width="1.0"/>
<polyline points="51.21,765.34 52.7,765.34 54.19,765.34 55.68,765.33 57.17,765.33 58.65,765.33 60.14,765.33 61.63,765.32 63.12,765.32 64.61,765.32 66.1,765.31 67.59,765.31 69.08,765.3 70.57,765.29 72.06,765.28 73.55,765.27 75.04,765.26 76.53,765.25 78.02,765.23 79.5,765.22 80.99,765.2 82.48,765.18 83.97,765.15 85.46,765.12 86.95,765.09 88.44,765.05 89.93,765 91.42,764.95 92.91,764.9 94.4,764.83 95.89,764.76 97.38,764.67 98.87,764.57 100.35,764.46 101.84,764.33 103.33,764.18 104.82,764.01 106.31,763.82 107.8,763.6 109.29,763.34 110.78,763.06 112.27,762.73 113.76,762.35 115.25,761.93 116.74,761.44 118.23,760.89 119.72,760.26 121.2,759.55 122.69,758.75 124.18,757.84 125.67,756.81 127.16,755.66 128.65,754.36 130.14,752.9 131.63,751.28 133.12,749.47 134.61,747.46 136.1,745.24 137.59,742.8 139.08,740.13 140.57,737.23 142.05,734.09 143.54,730.71 145.03,727.11 146.52,723.29 148.01,719.28 149.5,715.09 150.99,710.76 152.48,706.33 153.97,701.83 155.46,697.3 156.95,692.79 158.44,688.33 159.93,683.97 161.42,679.74 162.9,675.67 164.39,671.79 165.88,668.12 167.37,664.68 168.86,661.47 170.35,658.49 171.84,655.75 173.33,653.25 174.82,650.96 176.31,648.9 177.8,647.03 179.29,645.35 180.78,643.84 182.27,642.5 183.75,641.3 185.24,640.24 186.73,639.3 188.22,638.46 189.71,637.73 191.2,637.07 192.69,636.5 194.18,636 195.67,635.55 197.16,635.17 198.65,634.82 200.14,634.52 201.63,634.26 203.12,634.03 204.6,633.83 206.09,633.66 207.58,633.5 209.07,633.37 210.56,633.25 212.05,633.15 213.54,633.06 215.03,632.98 216.52,632.91 218.01,632.85 219.5,632.8 220.99,632.75 222.48,632.71 223.97,632.68 225.45,632.65 226.94,632.62 228.43,632.6 229.92,632.58" fill="none" stroke="#f3a23a" stroke-width="1.0"/>
<polyline points="51.21,765.34 52.7,765.34 54.19,765.34 55.68,765.34 57.17,765.34 58.65,765.34 60.14,765.34 61.63,765.33 63.12,765.33 64.61,765.33 66.1,765.32 67.59,765.32 69.08,765.32 70.57,765.31 72.06,765.3 73.55,765.3 75.04,765.29 76.53,765.28 78.02,765.27 79.5,765.26 80.99,765.24 82.48,765.22 83.97,765.2 85.46,765.18 86.95,765.16 88.44,765.13 89.93,765.09 91.42,765.05 92.91,765.01 94.4,764.96 95.89,764.9 97.38,764.83 98.87,764.75 100.35,764.65 101.84,764.55 103.33,764.42 104.82,764.28 106.31,764.12 107.8,763.93 109.29,763.72 110.78,763.47 112.27,763.19 113.76,762.86 115.25,762.49 116.74,762.06 118.23,761.56 119.72,761 121.2,760.35 122.69,759.61 124.18,758.77 125.67,757.81 127.16,756.72 128.65,755.48 130.14,754.07 131.63,752.49 133.12,750.7 134.61,748.69 136.1,746.45 137.59,743.95 139.08,741.18 140.57,738.12 142.05,734.77 143.54,731.12 145.03,727.16 146.52,722.91 148.01,718.37 149.5,713.58 150.99,708.55 152.48,703.33 153.97,697.96 155.46,692.49 156.95,686.98 158.44,681.47 159.93,676.03 161.42,670.72 162.9,665.57 164.39,660.62 165.88,655.93 167.37,651.5 168.86,647.36 170.35,643.52 171.84,639.98 173.33,636.75 174.82,633.8 176.31,631.14 177.8,628.74 179.29,626.59 180.78,624.67 182.27,622.97 183.75,621.45 185.24,620.11 186.73,618.93 188.22,617.89 189.71,616.98 191.2,616.18 192.69,615.48 194.18,614.87 195.67,614.33 197.16,613.86 198.65,613.45 200.14,613.1 201.63,612.79 203.12,612.52 204.6,612.29 206.09,612.08 207.58,611.91 209.07,611.75 210.56,611.62 212.05,611.5 213.54,611.4 215.03,611.31 216.52,611.24 218.01,611.17 219.5,611.12 220.99,611.07 222.48,611.02 223.97,610.99 225.45,610.95 226.94,610.93 228.43,610.9 229.92,610.88" fill="none" stroke="#3a9e3a" stroke-width="1.0"/>
<polyline points="51.21,765.34 52.7,765.34 54.19,765.34 55.68,765.34 57.17,765.34 58.65,765.34 60.14,765.34 61.63,765.33 63.12,765.33 64.61,765.33 66.1,765.33 67.59,765.32 69.08,765.32 70.57,765.31 72.06,765.31 73.55,765.3 75.04,765.29 76.53,765.28 78.02,765.27 79.5,765.26 80.99,765.25 82.48,765.23 83.97,765.22 85.46,765.19 86.95,765.17 88.44,765.14 89.93,765.11 91.42,765.07 92.91,765.03 94.4,764.98 95.89,764.92 97.38,764.85 98.87,764.78 100.35,764.69 101.84,764.58 103.33,764.46 104.82,764.33 106.31,764.17 107.8,763.98 109.29,763.77 110.78,763.53 112.27,763.24 113.76,762.92 115.25,762.55 116.74,762.11 118.23,761.62 119.72,761.05 121.2,760.4 122.69,759.65 124.18,758.79 125.67,757.81 127.16,756.7 128.65,755.42 130.14,753.97 131.63,752.33 133.12,750.48 134.61,748.39 136.1,746.04 137.59,743.42 139.08,740.5 140.57,737.27 142.05,733.71 143.54,729.81 145.03,725.58 146.52,721.02 148.01,716.13 149.5,710.95 150.99,705.5 152.48,699.82 153.97,693.97 155.46,688 156.95,681.96 158.44,675.93 159.93,669.96 161.42,664.12 162.9,658.46 164.39,653.03 165.88,647.87 167.37,643 168.86,638.47 170.35,634.26 171.84,630.39 173.33,626.86 174.82,623.65 176.31,620.76 177.8,618.15 179.29,615.83 180.78,613.76 182.27,611.92 183.75,610.29 185.24,608.86 186.73,607.6 188.22,606.49 189.71,605.52 191.2,604.68 192.69,603.94 194.18,603.29 195.67,602.73 197.16,602.24 198.65,601.81 200.14,601.44 201.63,601.12 203.12,600.84 204.6,600.6 206.09,600.39 207.58,600.21 209.07,600.05 210.56,599.91 212.05,599.8 213.54,599.69 215.03,599.61 216.52,599.53 218.01,599.46 219.5,599.41 220.99,599.36 222.48,599.31 223.97,599.28 225.45,599.24 226.94,599.22 228.43,599.19 229.92,599.17" fill="none" stroke="#c0103a" stroke-width="1.0"/>
<path d="M194.19 689.73V707.5M190.29 689.73h7.8M190.29 707.5h7.8M229.92 706.08V724.99M226.02 706.08h7.8M226.02 724.99h7.8" stroke="#1f4d80" stroke-width="1.1" fill="none"/>
<path d="M229.92 664.96V678.77M226.02 664.96h7.8M226.02 678.77h7.8" stroke="#4c2468" stroke-width="1.1" fill="none"/>
<path d="M229.92 633.3V651.07M226.02 633.3h7.8M226.02 651.07h7.8" stroke="#f3a23a" stroke-width="1.1" fill="none"/>
<path d="M158.45 681.03V688.6M154.55 681.03h7.8M154.55 688.6h7.8M194.19 587.26V608.06M190.29 587.26h7.8M190.29 608.06h7.8M229.92 620.73V632.07M226.02 620.73h7.8M226.02 632.07h7.8" stroke="#3a9e3a" stroke-width="1.1" fill="none"/>
<path d="M51.21 762.04V768.66M47.31 762.04h7.8M47.31 768.66h7.8M122.68 745.5V752.49M118.78 745.5h7.8M118.78 752.49h7.8M194.19 579.32V598.23M190.29 579.32h7.8M190.29 598.23h7.8M229.92 602.58V622.43M226.02 602.58h7.8M226.02 622.43h7.8" stroke="#c0103a" stroke-width="1.1" fill="none"/>
<path d="M51.21 761.9L54.66 765.35L51.21 768.8L47.76 765.35Z" fill="#1f5a96" stroke="#153e6a" stroke-width="0.5"/>
<path d="M86.94 761.9L90.39 765.35L86.94 768.8L83.49 765.35Z" fill="#1f5a96" stroke="#153e6a" stroke-width="0.5"/>
<path d="M122.68 759.06L126.13 762.51L122.68 765.96L119.23 762.51Z" fill="#1f5a96" stroke="#153e6a" stroke-width="0.5"/>
<path d="M158.45 736.66L161.9 740.11L158.45 743.56L155 740.11Z" fill="#1f5a96" stroke="#153e6a" stroke-width="0.5"/>
<path d="M194.19 695.17L197.64 698.62L194.19 702.07L190.74 698.62Z" fill="#1f5a96" stroke="#153e6a" stroke-width="0.5"/>
<path d="M229.92 712.09L233.37 715.54L229.92 718.99L226.47 715.54Z" fill="#1f5a96" stroke="#153e6a" stroke-width="0.5"/>
<path d="M51.21 768.82L54.51 762.55L47.91 762.55Z" fill="#4e2270" stroke="#3a1656" stroke-width="0.4"/>
<path d="M86.94 767.87L90.24 761.6L83.64 761.6Z" fill="#4e2270" stroke="#3a1656" stroke-width="0.4"/>
<path d="M122.68 763.14L125.98 756.87L119.38 756.87Z" fill="#4e2270" stroke="#3a1656" stroke-width="0.4"/>
<path d="M158.45 716.45L161.75 710.18L155.15 710.18Z" fill="#4e2270" stroke="#3a1656" stroke-width="0.4"/>
<path d="M194.19 673.44L197.49 667.17L190.89 667.17Z" fill="#4e2270" stroke="#3a1656" stroke-width="0.4"/>
<path d="M229.92 675.33L233.22 669.06L226.62 669.06Z" fill="#4e2270" stroke="#3a1656" stroke-width="0.4"/>
<path d="M51.21 761.78L54.61 768.24L47.81 768.24Z" fill="#f7a11a" stroke="#e08a10" stroke-width="0.4"/>
<path d="M86.94 760.83L90.34 767.29L83.54 767.29Z" fill="#f7a11a" stroke="#e08a10" stroke-width="0.4"/>
<path d="M122.68 751.85L126.08 758.31L119.28 758.31Z" fill="#f7a11a" stroke="#e08a10" stroke-width="0.4"/>
<path d="M158.45 691.83L161.85 698.29L155.05 698.29Z" fill="#f7a11a" stroke="#e08a10" stroke-width="0.4"/>
<path d="M194.19 621.88L197.59 628.34L190.79 628.34Z" fill="#f7a11a" stroke="#e08a10" stroke-width="0.4"/>
<path d="M229.92 638.61L233.32 645.07L226.52 645.07Z" fill="#f7a11a" stroke="#e08a10" stroke-width="0.4"/>
<rect x="48.01" y="762.15" width="6.4" height="6.4" fill="#2fa73e" stroke="#1f7f2c" stroke-width="0.4"/>
<rect x="83.74" y="761.2" width="6.4" height="6.4" fill="#2fa73e" stroke="#1f7f2c" stroke-width="0.4"/>
<rect x="119.48" y="749.86" width="6.4" height="6.4" fill="#2fa73e" stroke="#1f7f2c" stroke-width="0.4"/>
<rect x="155.25" y="681.61" width="6.4" height="6.4" fill="#2fa73e" stroke="#1f7f2c" stroke-width="0.4"/>
<rect x="190.99" y="594.46" width="6.4" height="6.4" fill="#2fa73e" stroke="#1f7f2c" stroke-width="0.4"/>
<rect x="226.72" y="623.2" width="6.4" height="6.4" fill="#2fa73e" stroke="#1f7f2c" stroke-width="0.4"/>
<circle cx="51.21" cy="765.35" r="3.5" fill="#d0103a" stroke="#9c0c2a" stroke-width="0.5"/>
<circle cx="86.94" cy="764.4" r="3.5" fill="#d0103a" stroke="#9c0c2a" stroke-width="0.5"/>
<circle cx="122.68" cy="749" r="3.5" fill="#d0103a" stroke="#9c0c2a" stroke-width="0.5"/>
<circle cx="158.45" cy="677.73" r="3.5" fill="#d0103a" stroke="#9c0c2a" stroke-width="0.5"/>
<circle cx="194.19" cy="588.78" r="3.5" fill="#d0103a" stroke="#9c0c2a" stroke-width="0.5"/>
<circle cx="229.92" cy="612.5" r="3.5" fill="#d0103a" stroke="#9c0c2a" stroke-width="0.5"/>
<path d="M52.1 585.05H62.9" stroke="#c0103a" stroke-width="1.1"/>
<circle cx="57.5" cy="585.05" r="3.32" fill="#d0103a" stroke="#9c0c2a" stroke-width="0.5"/>
<text x="65.7" y="587.6" font-size="8.3" fill="#3a3a3a" textLength="62.5" lengthAdjust="spacingAndGlyphs">[scFv4-16] 0 nM</text>
<path d="M52.1 598.05H62.9" stroke="#3a9e3a" stroke-width="1.1"/>
<rect x="54.46" y="595.01" width="6.08" height="6.08" fill="#2fa73e" stroke="#1f7f2c" stroke-width="0.4"/>
<text x="65.7" y="600.6" font-size="8.3" fill="#3a3a3a" textLength="75.0" lengthAdjust="spacingAndGlyphs">[scFv4-16] 1.11 nM</text>
<path d="M52.1 611.05H62.9" stroke="#f3a23a" stroke-width="1.1"/>
<path d="M57.5 607.66L60.73 613.8L54.27 613.8Z" fill="#f7a11a" stroke="#e08a10" stroke-width="0.4"/>
<text x="65.7" y="613.6" font-size="8.3" fill="#3a3a3a" textLength="75.0" lengthAdjust="spacingAndGlyphs">[scFv4-16] 3.33 nM</text>
<path d="M52.1 624.05H62.9" stroke="#4c2468" stroke-width="1.1"/>
<path d="M57.5 627.34L60.63 621.39L54.37 621.39Z" fill="#4e2270" stroke="#3a1656" stroke-width="0.4"/>
<text x="65.7" y="626.6" font-size="8.3" fill="#3a3a3a" textLength="67.9" lengthAdjust="spacingAndGlyphs">[scFv4-16] 10 nM</text>
<path d="M52.1 637.05H62.9" stroke="#1f4d80" stroke-width="1.1"/>
<path d="M57.5 633.77L60.78 637.05L57.5 640.33L54.22 637.05Z" fill="#1f5a96" stroke="#153e6a" stroke-width="0.5"/>
<text x="65.7" y="639.6" font-size="8.3" fill="#3a3a3a" textLength="67.9" lengthAdjust="spacingAndGlyphs">[scFv4-16] 30 nM</text>
</g>
<g id="pD">
<text transform="translate(281.4 19.0) scale(1.1 1)" font-size="13.6" font-weight="bold" fill="#000" stroke="#000" stroke-width="0.35">D</text>
<path d="M317.65 35.699999999999996V231.04999999999998M317.65 227.85H510.6" stroke="#0d0d0d" stroke-width="1.15" fill="none"/>
<path d="M314.04999999999995 227.85H317.65M314.04999999999995 190.04H317.65M314.04999999999995 152.23H317.65M314.04999999999995 114.42H317.65M314.04999999999995 76.61H317.65M314.04999999999995 38.8H317.65M328.15 227.85v3.0M335.37 227.85v3.0M341.27 227.85v3.0M346.26 227.85v3.0M350.58 227.85v3.0M354.39 227.85v3.0M357.8 227.85v3.7M380.23 227.85v3.0M393.35 227.85v3.0M402.65 227.85v3.0M409.87 227.85v3.0M415.77 227.85v3.0M420.76 227.85v3.0M425.08 227.85v3.0M428.89 227.85v3.0M432.3 227.85v3.7M454.73 227.85v3.0M467.85 227.85v3.0M477.15 227.85v3.0M484.37 227.85v3.0M490.27 227.85v3.0M495.26 227.85v3.0M499.58 227.85v3.0M503.39 227.85v3.0M506.8 227.85v3.7" stroke="#0d0d0d" stroke-width="1.05" fill="none"/>
<text x="310.45" y="230.9" font-size="9.8" text-anchor="end" fill="#2b2b2b" stroke="#2b2b2b" stroke-width="0.15">0.0</text>
<text x="310.45" y="193.09" font-size="9.8" text-anchor="end" fill="#2b2b2b" stroke="#2b2b2b" stroke-width="0.15">0.5</text>
<text x="310.45" y="155.28" font-size="9.8" text-anchor="end" fill="#2b2b2b" stroke="#2b2b2b" stroke-width="0.15">1.0</text>
<text x="310.45" y="117.47" font-size="9.8" text-anchor="end" fill="#2b2b2b" stroke="#2b2b2b" stroke-width="0.15">1.5</text>
<text x="310.45" y="79.66" font-size="9.8" text-anchor="end" fill="#2b2b2b" stroke="#2b2b2b" stroke-width="0.15">2.0</text>
<text x="310.45" y="41.85" font-size="9.8" text-anchor="end" fill="#2b2b2b" stroke="#2b2b2b" stroke-width="0.15">2.5</text>
<text x="317.65" y="242.7" font-size="9.8" text-anchor="middle" fill="#2b2b2b" stroke="#2b2b2b" stroke-width="0.15">0.03</text>
<text x="357.8" y="242.7" font-size="9.8" text-anchor="middle" fill="#2b2b2b" stroke="#2b2b2b" stroke-width="0.15">0.1</text>
<text x="432.3" y="242.7" font-size="9.8" text-anchor="middle" fill="#2b2b2b" stroke="#2b2b2b" stroke-width="0.15">1</text>
<text x="506.8" y="242.7" font-size="9.8" text-anchor="middle" fill="#2b2b2b" stroke="#2b2b2b" stroke-width="0.15">10</text>
<text x="412.4" y="258.25" font-size="9.7" text-anchor="middle" fill="#222" stroke="#222" stroke-width="0.3" textLength="82" lengthAdjust="spacingAndGlyphs">[FRETS-VWF73] (µM)</text>
<text transform="translate(290.8 133.85) rotate(-90)" x="0" y="0" font-size="9.4" text-anchor="middle" fill="#222" stroke="#222" stroke-width="0.35" textLength="72.5" lengthAdjust="spacingAndGlyphs">Velocity (ΔFU/sec)</text>
<polyline points="324.2,227.78 325.69,227.77 327.18,227.76 328.66,227.75 330.15,227.74 331.64,227.73 333.13,227.72 334.61,227.71 336.1,227.69 337.59,227.68 339.07,227.66 340.56,227.64 342.05,227.62 343.54,227.6 345.02,227.57 346.51,227.55 348,227.52 349.49,227.48 350.97,227.45 352.46,227.41 353.95,227.36 355.43,227.32 356.92,227.26 358.41,227.21 359.9,227.14 361.38,227.07 362.87,227 364.36,226.91 365.85,226.82 367.33,226.72 368.82,226.61 370.31,226.49 371.8,226.36 373.28,226.22 374.77,226.06 376.26,225.89 377.74,225.7 379.23,225.49 380.72,225.27 382.21,225.02 383.69,224.75 385.18,224.46 386.67,224.14 388.16,223.8 389.64,223.42 391.13,223.01 392.62,222.57 394.1,222.09 395.59,221.57 397.08,221.01 398.57,220.4 400.05,219.74 401.54,219.04 403.03,218.28 404.52,217.47 406,216.61 407.49,215.68 408.98,214.7 410.46,213.66 411.95,212.55 413.44,211.38 414.93,210.15 416.41,208.86 417.9,207.51 419.39,206.11 420.88,204.65 422.36,203.14 423.85,201.59 425.34,200 426.83,198.37 428.31,196.71 429.8,195.03 431.29,193.34 432.77,191.64 434.26,189.95 435.75,188.26 437.24,186.58 438.72,184.93 440.21,183.31 441.7,181.72 443.19,180.18 444.67,178.68 446.16,177.23 447.65,175.84 449.13,174.5 450.62,173.23 452.11,172.01 453.6,170.86 455.08,169.76 456.57,168.73 458.06,167.76 459.55,166.85 461.03,165.99 462.52,165.2 464.01,164.45 465.49,163.76 466.98,163.11 468.47,162.52 469.96,161.96 471.44,161.45 472.93,160.98 474.42,160.54 475.91,160.14 477.39,159.77 478.88,159.43 480.37,159.12 481.86,158.83 483.34,158.57 484.83,158.33 486.32,158.11 487.8,157.9 489.29,157.72 490.78,157.55 492.27,157.4 493.75,157.25 495.24,157.13 496.73,157.01 498.22,156.9 499.7,156.8 501.19,156.71 502.68,156.63" fill="none" stroke="#1f4d80" stroke-width="1.0"/>
<polyline points="324.2,227.7 325.69,227.68 327.18,227.67 328.66,227.65 330.15,227.63 331.64,227.61 333.13,227.58 334.61,227.56 336.1,227.53 337.59,227.5 339.07,227.47 340.56,227.43 342.05,227.39 343.54,227.35 345.02,227.3 346.51,227.24 348,227.19 349.49,227.12 350.97,227.05 352.46,226.97 353.95,226.89 355.43,226.8 356.92,226.7 358.41,226.59 359.9,226.47 361.38,226.34 362.87,226.19 364.36,226.03 365.85,225.86 367.33,225.67 368.82,225.47 370.31,225.24 371.8,225 373.28,224.73 374.77,224.44 376.26,224.12 377.74,223.77 379.23,223.39 380.72,222.98 382.21,222.53 383.69,222.04 385.18,221.51 386.67,220.93 388.16,220.31 389.64,219.63 391.13,218.9 392.62,218.11 394.1,217.25 395.59,216.33 397.08,215.34 398.57,214.28 400.05,213.13 401.54,211.91 403.03,210.6 404.52,209.21 406,207.72 407.49,206.15 408.98,204.48 410.46,202.72 411.95,200.86 413.44,198.91 414.93,196.87 416.41,194.75 417.9,192.54 419.39,190.25 420.88,187.89 422.36,185.46 423.85,182.98 425.34,180.44 426.83,177.86 428.31,175.26 429.8,172.64 431.29,170 432.77,167.38 434.26,164.76 435.75,162.17 437.24,159.62 438.72,157.11 440.21,154.66 441.7,152.27 443.19,149.96 444.67,147.71 446.16,145.55 447.65,143.48 449.13,141.5 450.62,139.61 452.11,137.81 453.6,136.1 455.08,134.49 456.57,132.97 458.06,131.54 459.55,130.2 461.03,128.94 462.52,127.77 464.01,126.67 465.49,125.65 466.98,124.7 468.47,123.82 469.96,123.01 471.44,122.25 472.93,121.55 474.42,120.91 475.91,120.31 477.39,119.76 478.88,119.26 480.37,118.8 481.86,118.37 483.34,117.98 484.83,117.62 486.32,117.29 487.8,116.98 489.29,116.71 490.78,116.45 492.27,116.22 493.75,116 495.24,115.81 496.73,115.63 498.22,115.47 499.7,115.32 501.19,115.18 502.68,115.06" fill="none" stroke="#4c2468" stroke-width="1.0"/>
<polyline points="324.2,227.63 325.69,227.6 327.18,227.58 328.66,227.55 330.15,227.53 331.64,227.49 333.13,227.46 334.61,227.42 336.1,227.38 337.59,227.34 339.07,227.29 340.56,227.23 342.05,227.17 343.54,227.11 345.02,227.04 346.51,226.96 348,226.87 349.49,226.78 350.97,226.67 352.46,226.56 353.95,226.44 355.43,226.3 356.92,226.15 358.41,225.99 359.9,225.81 361.38,225.62 362.87,225.41 364.36,225.18 365.85,224.92 367.33,224.64 368.82,224.34 370.31,224.01 371.8,223.65 373.28,223.25 374.77,222.82 376.26,222.35 377.74,221.84 379.23,221.29 380.72,220.68 382.21,220.02 383.69,219.31 385.18,218.53 386.67,217.69 388.16,216.78 389.64,215.8 391.13,214.74 392.62,213.59 394.1,212.35 395.59,211.02 397.08,209.6 398.57,208.07 400.05,206.43 401.54,204.68 403.03,202.82 404.52,200.84 406,198.74 407.49,196.52 408.98,194.18 410.46,191.72 411.95,189.14 413.44,186.45 414.93,183.65 416.41,180.74 417.9,177.73 419.39,174.64 420.88,171.46 422.36,168.21 423.85,164.91 425.34,161.57 426.83,158.19 428.31,154.8 429.8,151.41 431.29,148.03 432.77,144.68 434.26,141.36 435.75,138.11 437.24,134.92 438.72,131.8 440.21,128.78 441.7,125.85 443.19,123.02 444.67,120.3 446.16,117.7 447.65,115.22 449.13,112.85 450.62,110.61 452.11,108.48 453.6,106.48 455.08,104.59 456.57,102.82 458.06,101.16 459.55,99.61 461.03,98.16 462.52,96.81 464.01,95.56 465.49,94.39 466.98,93.31 468.47,92.31 469.96,91.39 471.44,90.53 472.93,89.74 474.42,89.02 475.91,88.35 477.39,87.73 478.88,87.17 480.37,86.65 481.86,86.17 483.34,85.73 484.83,85.33 486.32,84.96 487.8,84.62 489.29,84.31 490.78,84.03 492.27,83.77 493.75,83.54 495.24,83.32 496.73,83.12 498.22,82.94 499.7,82.78 501.19,82.62 502.68,82.49" fill="none" stroke="#f3a23a" stroke-width="1.0"/>
<polyline points="324.2,227.63 325.69,227.61 327.18,227.59 328.66,227.56 330.15,227.53 331.64,227.5 333.13,227.47 334.61,227.43 336.1,227.39 337.59,227.34 339.07,227.29 340.56,227.24 342.05,227.18 343.54,227.11 345.02,227.04 346.51,226.96 348,226.87 349.49,226.77 350.97,226.67 352.46,226.55 353.95,226.42 355.43,226.28 356.92,226.13 358.41,225.96 359.9,225.78 361.38,225.58 362.87,225.36 364.36,225.11 365.85,224.85 367.33,224.56 368.82,224.24 370.31,223.89 371.8,223.51 373.28,223.09 374.77,222.63 376.26,222.14 377.74,221.59 379.23,221 380.72,220.35 382.21,219.65 383.69,218.88 385.18,218.05 386.67,217.14 388.16,216.15 389.64,215.09 391.13,213.93 392.62,212.68 394.1,211.33 395.59,209.87 397.08,208.3 398.57,206.61 400.05,204.81 401.54,202.87 403.03,200.8 404.52,198.6 406,196.25 407.49,193.77 408.98,191.14 410.46,188.37 411.95,185.47 413.44,182.42 414.93,179.24 416.41,175.93 417.9,172.51 419.39,168.97 420.88,165.34 422.36,161.62 423.85,157.82 425.34,153.98 426.83,150.08 428.31,146.17 429.8,142.25 431.29,138.34 432.77,134.46 434.26,130.62 435.75,126.84 437.24,123.14 438.72,119.53 440.21,116.02 441.7,112.62 443.19,109.34 444.67,106.19 446.16,103.17 447.65,100.3 449.13,97.56 450.62,94.97 452.11,92.52 453.6,90.21 455.08,88.03 456.57,86 458.06,84.09 459.55,82.31 461.03,80.65 462.52,79.11 464.01,77.68 465.49,76.35 466.98,75.12 468.47,73.98 469.96,72.94 471.44,71.97 472.93,71.08 474.42,70.26 475.91,69.51 477.39,68.82 478.88,68.18 480.37,67.6 481.86,67.07 483.34,66.58 484.83,66.13 486.32,65.72 487.8,65.35 489.29,65.01 490.78,64.7 492.27,64.41 493.75,64.15 495.24,63.91 496.73,63.7 498.22,63.5 499.7,63.32 501.19,63.16 502.68,63.01" fill="none" stroke="#3a9e3a" stroke-width="1.0"/>
<polyline points="324.2,227.58 325.69,227.55 327.18,227.52 328.66,227.49 330.15,227.46 331.64,227.42 333.13,227.38 334.61,227.33 336.1,227.29 337.59,227.23 339.07,227.17 340.56,227.11 342.05,227.04 343.54,226.96 345.02,226.87 346.51,226.78 348,226.68 349.49,226.57 350.97,226.44 352.46,226.31 353.95,226.16 355.43,226 356.92,225.83 358.41,225.63 359.9,225.42 361.38,225.19 362.87,224.94 364.36,224.67 365.85,224.37 367.33,224.04 368.82,223.68 370.31,223.29 371.8,222.87 373.28,222.4 374.77,221.89 376.26,221.34 377.74,220.74 379.23,220.09 380.72,219.38 382.21,218.6 383.69,217.76 385.18,216.85 386.67,215.86 388.16,214.79 389.64,213.64 391.13,212.38 392.62,211.03 394.1,209.58 395.59,208.01 397.08,206.33 398.57,204.53 400.05,202.6 401.54,200.53 403.03,198.33 404.52,195.99 406,193.5 407.49,190.87 408.98,188.09 410.46,185.16 411.95,182.08 413.44,178.86 414.93,175.5 416.41,172.01 417.9,168.39 419.39,164.65 420.88,160.8 422.36,156.86 423.85,152.84 425.34,148.75 426.83,144.61 428.31,140.44 429.8,136.25 431.29,132.07 432.77,127.9 434.26,123.76 435.75,119.68 437.24,115.67 438.72,111.74 440.21,107.91 441.7,104.18 443.19,100.58 444.67,97.1 446.16,93.76 447.65,90.56 449.13,87.5 450.62,84.59 452.11,81.83 453.6,79.21 455.08,76.74 456.57,74.42 458.06,72.23 459.55,70.19 461.03,68.27 462.52,66.48 464.01,64.81 465.49,63.26 466.98,61.82 468.47,60.48 469.96,59.24 471.44,58.1 472.93,57.04 474.42,56.06 475.91,55.16 477.39,54.33 478.88,53.56 480.37,52.86 481.86,52.21 483.34,51.62 484.83,51.07 486.32,50.57 487.8,50.11 489.29,49.69 490.78,49.3 492.27,48.95 493.75,48.62 495.24,48.33 496.73,48.05 498.22,47.81 499.7,47.58 501.19,47.37 502.68,47.18" fill="none" stroke="#c0103a" stroke-width="1.0"/>
<path d="M431.3 190.8V201.23M427.4 190.8h7.8M427.4 201.23h7.8M466.99 148.6V177.34M463.09 148.6h7.8M463.09 177.34h7.8M502.68 152.68V166.3M498.78 152.68h7.8M498.78 166.3h7.8" stroke="#1f4d80" stroke-width="1.1" fill="none"/>
<path d="M466.99 121.15V134.01M463.09 121.15h7.8M463.09 134.01h7.8" stroke="#4c2468" stroke-width="1.1" fill="none"/>
<path d="M431.3 144.89V150.94M427.4 144.89h7.8M427.4 150.94h7.8M466.99 93.25V108.37M463.09 93.25h7.8M463.09 108.37h7.8M502.68 71.32V94M498.78 71.32h7.8M498.78 94h7.8" stroke="#f3a23a" stroke-width="1.1" fill="none"/>
<path d="M431.3 135.97V142.02M427.4 135.97h7.8M427.4 142.02h7.8M466.99 60.65V75.78M463.09 60.65h7.8M463.09 75.78h7.8M502.68 56.04V83.26M498.78 56.04h7.8M498.78 83.26h7.8" stroke="#3a9e3a" stroke-width="1.1" fill="none"/>
<path d="M395.58 201.91V209.47M391.68 201.91h7.8M391.68 209.47h7.8M431.3 128.56V137.64M427.4 128.56h7.8M427.4 137.64h7.8M466.99 53.92V64.51M463.09 53.92h7.8M463.09 64.51h7.8" stroke="#c0103a" stroke-width="1.1" fill="none"/>
<path d="M324.2 224.4L327.65 227.85L324.2 231.3L320.75 227.85Z" fill="#1f5a96" stroke="#153e6a" stroke-width="0.5"/>
<path d="M359.89 223.64L363.34 227.09L359.89 230.54L356.44 227.09Z" fill="#1f5a96" stroke="#153e6a" stroke-width="0.5"/>
<path d="M395.58 217.82L399.03 221.27L395.58 224.72L392.13 221.27Z" fill="#1f5a96" stroke="#153e6a" stroke-width="0.5"/>
<path d="M431.3 192.56L434.75 196.01L431.3 199.46L427.85 196.01Z" fill="#1f5a96" stroke="#153e6a" stroke-width="0.5"/>
<path d="M466.99 159.52L470.44 162.97L466.99 166.42L463.54 162.97Z" fill="#1f5a96" stroke="#153e6a" stroke-width="0.5"/>
<path d="M502.68 156.04L506.13 159.49L502.68 162.94L499.23 159.49Z" fill="#1f5a96" stroke="#153e6a" stroke-width="0.5"/>
<path d="M324.2 231.31L327.5 225.04L320.9 225.04Z" fill="#4e2270" stroke="#3a1656" stroke-width="0.4"/>
<path d="M359.89 230.56L363.19 224.29L356.59 224.29Z" fill="#4e2270" stroke="#3a1656" stroke-width="0.4"/>
<path d="M395.58 218.46L398.88 212.19L392.28 212.19Z" fill="#4e2270" stroke="#3a1656" stroke-width="0.4"/>
<path d="M431.3 174.3L434.6 168.03L428 168.03Z" fill="#4e2270" stroke="#3a1656" stroke-width="0.4"/>
<path d="M466.99 131.04L470.29 124.77L463.69 124.77Z" fill="#4e2270" stroke="#3a1656" stroke-width="0.4"/>
<path d="M502.68 117.13L505.98 110.86L499.38 110.86Z" fill="#4e2270" stroke="#3a1656" stroke-width="0.4"/>
<path d="M324.2 224.28L327.6 230.74L320.8 230.74Z" fill="#f7a11a" stroke="#e08a10" stroke-width="0.4"/>
<path d="M359.89 223.52L363.29 229.98L356.49 229.98Z" fill="#f7a11a" stroke="#e08a10" stroke-width="0.4"/>
<path d="M395.58 209.16L398.98 215.62L392.18 215.62Z" fill="#f7a11a" stroke="#e08a10" stroke-width="0.4"/>
<path d="M431.3 144.35L434.7 150.81L427.9 150.81Z" fill="#f7a11a" stroke="#e08a10" stroke-width="0.4"/>
<path d="M466.99 97.24L470.39 103.7L463.59 103.7Z" fill="#f7a11a" stroke="#e08a10" stroke-width="0.4"/>
<path d="M502.68 79.09L506.08 85.55L499.28 85.55Z" fill="#f7a11a" stroke="#e08a10" stroke-width="0.4"/>
<rect x="321" y="223.36" width="6.4" height="6.4" fill="#2fa73e" stroke="#1f7f2c" stroke-width="0.4"/>
<rect x="356.69" y="223.14" width="6.4" height="6.4" fill="#2fa73e" stroke="#1f7f2c" stroke-width="0.4"/>
<rect x="392.38" y="207.64" width="6.4" height="6.4" fill="#2fa73e" stroke="#1f7f2c" stroke-width="0.4"/>
<rect x="428.1" y="135.8" width="6.4" height="6.4" fill="#2fa73e" stroke="#1f7f2c" stroke-width="0.4"/>
<rect x="463.79" y="65.02" width="6.4" height="6.4" fill="#2fa73e" stroke="#1f7f2c" stroke-width="0.4"/>
<rect x="499.48" y="66.45" width="6.4" height="6.4" fill="#2fa73e" stroke="#1f7f2c" stroke-width="0.4"/>
<circle cx="324.2" cy="227.85" r="3.5" fill="#d0103a" stroke="#9c0c2a" stroke-width="0.5"/>
<circle cx="359.89" cy="227.09" r="3.5" fill="#d0103a" stroke="#9c0c2a" stroke-width="0.5"/>
<circle cx="395.58" cy="205.69" r="3.5" fill="#d0103a" stroke="#9c0c2a" stroke-width="0.5"/>
<circle cx="431.3" cy="133.1" r="3.5" fill="#d0103a" stroke="#9c0c2a" stroke-width="0.5"/>
<circle cx="466.99" cy="59.22" r="3.5" fill="#d0103a" stroke="#9c0c2a" stroke-width="0.5"/>
<circle cx="502.68" cy="47.12" r="3.5" fill="#d0103a" stroke="#9c0c2a" stroke-width="0.5"/>
<path d="M325.7 49.25H336.5" stroke="#c0103a" stroke-width="1.1"/>
<circle cx="331.1" cy="49.25" r="3.32" fill="#d0103a" stroke="#9c0c2a" stroke-width="0.5"/>
<text x="339.4" y="51.8" font-size="8.3" fill="#3a3a3a" textLength="62.2" lengthAdjust="spacingAndGlyphs">[scFv4-20] 0 nM</text>
<path d="M325.7 62.25H336.5" stroke="#3a9e3a" stroke-width="1.1"/>
<rect x="328.06" y="59.21" width="6.08" height="6.08" fill="#2fa73e" stroke="#1f7f2c" stroke-width="0.4"/>
<text x="339.4" y="64.8" font-size="8.3" fill="#3a3a3a" textLength="74.3" lengthAdjust="spacingAndGlyphs">[scFv4-20] 0.04 nM</text>
<path d="M325.7 75.25H336.5" stroke="#f3a23a" stroke-width="1.1"/>
<path d="M331.1 71.86L334.33 78L327.87 78Z" fill="#f7a11a" stroke="#e08a10" stroke-width="0.4"/>
<text x="339.4" y="77.8" font-size="8.3" fill="#3a3a3a" textLength="74.3" lengthAdjust="spacingAndGlyphs">[scFv4-20] 0.12 nM</text>
<path d="M325.7 88.25H336.5" stroke="#4c2468" stroke-width="1.1"/>
<path d="M331.1 91.54L334.24 85.59L327.97 85.59Z" fill="#4e2270" stroke="#3a1656" stroke-width="0.4"/>
<text x="339.4" y="90.8" font-size="8.3" fill="#3a3a3a" textLength="74.3" lengthAdjust="spacingAndGlyphs">[scFv4-20] 0.37 nM</text>
<path d="M325.7 101.25H336.5" stroke="#1f4d80" stroke-width="1.1"/>
<path d="M331.1 97.97L334.38 101.25L331.1 104.53L327.82 101.25Z" fill="#1f5a96" stroke="#153e6a" stroke-width="0.5"/>
<text x="339.4" y="103.8" font-size="8.3" fill="#3a3a3a" textLength="74.3" lengthAdjust="spacingAndGlyphs">[scFv4-20] 1.11 nM</text>
</g>
<g id="pE">
<text transform="translate(281.4 290.8) scale(0.98 1)" font-size="13.6" font-weight="bold" fill="#000" stroke="#000" stroke-width="0.35">E</text>
<path d="M317.65 304.0V499.59999999999997M317.65 496.4H510.6" stroke="#0d0d0d" stroke-width="1.15" fill="none"/>
<path d="M314.04999999999995 496.4H317.65M314.04999999999995 458.54H317.65M314.04999999999995 420.68H317.65M314.04999999999995 382.82H317.65M314.04999999999995 344.96H317.65M314.04999999999995 307.1H317.65M328.15 496.4v3.0M335.37 496.4v3.0M341.27 496.4v3.0M346.26 496.4v3.0M350.58 496.4v3.0M354.39 496.4v3.0M357.8 496.4v3.7M380.23 496.4v3.0M393.35 496.4v3.0M402.65 496.4v3.0M409.87 496.4v3.0M415.77 496.4v3.0M420.76 496.4v3.0M425.08 496.4v3.0M428.89 496.4v3.0M432.3 496.4v3.7M454.73 496.4v3.0M467.85 496.4v3.0M477.15 496.4v3.0M484.37 496.4v3.0M490.27 496.4v3.0M495.26 496.4v3.0M499.58 496.4v3.0M503.39 496.4v3.0M506.8 496.4v3.7" stroke="#0d0d0d" stroke-width="1.05" fill="none"/>
<text x="310.45" y="499.45" font-size="9.8" text-anchor="end" fill="#2b2b2b" stroke="#2b2b2b" stroke-width="0.15">0.0</text>
<text x="310.45" y="461.59" font-size="9.8" text-anchor="end" fill="#2b2b2b" stroke="#2b2b2b" stroke-width="0.15">0.5</text>
<text x="310.45" y="423.73" font-size="9.8" text-anchor="end" fill="#2b2b2b" stroke="#2b2b2b" stroke-width="0.15">1.0</text>
<text x="310.45" y="385.87" font-size="9.8" text-anchor="end" fill="#2b2b2b" stroke="#2b2b2b" stroke-width="0.15">1.5</text>
<text x="310.45" y="348.01" font-size="9.8" text-anchor="end" fill="#2b2b2b" stroke="#2b2b2b" stroke-width="0.15">2.0</text>
<text x="310.45" y="310.15" font-size="9.8" text-anchor="end" fill="#2b2b2b" stroke="#2b2b2b" stroke-width="0.15">2.5</text>
<text x="317.65" y="511.25" font-size="9.8" text-anchor="middle" fill="#2b2b2b" stroke="#2b2b2b" stroke-width="0.15">0.03</text>
<text x="357.8" y="511.25" font-size="9.8" text-anchor="middle" fill="#2b2b2b" stroke="#2b2b2b" stroke-width="0.15">0.1</text>
<text x="432.3" y="511.25" font-size="9.8" text-anchor="middle" fill="#2b2b2b" stroke="#2b2b2b" stroke-width="0.15">1</text>
<text x="506.8" y="511.25" font-size="9.8" text-anchor="middle" fill="#2b2b2b" stroke="#2b2b2b" stroke-width="0.15">10</text>
<text x="412.4" y="526.8" font-size="9.7" text-anchor="middle" fill="#222" stroke="#222" stroke-width="0.3" textLength="82" lengthAdjust="spacingAndGlyphs">[FRETS-VWF73] (µM)</text>
<text transform="translate(290.8 402.4) rotate(-90)" x="0" y="0" font-size="9.4" text-anchor="middle" fill="#222" stroke="#222" stroke-width="0.35" textLength="72.5" lengthAdjust="spacingAndGlyphs">Velocity (ΔFU/sec)</text>
<polyline points="356.5,495.69 357.72,495.64 358.94,495.58 360.15,495.52 361.37,495.45 362.59,495.37 363.81,495.29 365.03,495.21 366.25,495.11 367.46,495.01 368.68,494.91 369.9,494.79 371.12,494.67 372.34,494.53 373.55,494.39 374.77,494.23 375.99,494.07 377.21,493.89 378.43,493.69 379.64,493.49 380.86,493.27 382.08,493.03 383.3,492.77 384.52,492.5 385.74,492.2 386.95,491.89 388.17,491.55 389.39,491.19 390.61,490.8 391.83,490.39 393.04,489.94 394.26,489.47 395.48,488.97 396.7,488.43 397.92,487.86 399.14,487.25 400.35,486.6 401.57,485.91 402.79,485.18 404.01,484.4 405.23,483.58 406.44,482.72 407.66,481.8 408.88,480.84 410.1,479.82 411.32,478.75 412.53,477.63 413.75,476.46 414.97,475.23 416.19,473.95 417.41,472.61 418.63,471.23 419.84,469.79 421.06,468.3 422.28,466.76 423.5,465.18 424.72,463.56 425.93,461.89 427.15,460.19 428.37,458.46 429.59,456.7 430.81,454.91 432.02,453.11 433.24,451.29 434.46,449.46 435.68,447.63 436.9,445.8 438.12,443.97 439.33,442.16 440.55,440.36 441.77,438.59 442.99,436.84 444.21,435.12 445.42,433.44 446.64,431.79 447.86,430.19 449.08,428.63 450.3,427.12 451.52,425.66 452.73,424.25 453.95,422.88 455.17,421.58 456.39,420.32 457.61,419.12 458.82,417.97 460.04,416.88 461.26,415.84 462.48,414.85 463.7,413.91 464.91,413.02 466.13,412.17 467.35,411.37 468.57,410.62 469.79,409.91 471.01,409.24 472.22,408.62 473.44,408.02 474.66,407.47 475.88,406.95 477.1,406.46 478.31,406 479.53,405.58 480.75,405.17 481.97,404.8 483.19,404.45 484.41,404.12 485.62,403.82 486.84,403.54 488.06,403.27 489.28,403.02 490.5,402.79 491.71,402.58 492.93,402.38 494.15,402.19 495.37,402.02 496.59,401.86 497.8,401.71 499.02,401.57 500.24,401.44 501.46,401.32 502.68,401.21" fill="none" stroke="#1f4d80" stroke-width="1.0"/>
<polyline points="356.5,495.54 357.72,495.47 358.94,495.39 360.15,495.31 361.37,495.22 362.59,495.12 363.81,495.02 365.03,494.9 366.25,494.78 367.46,494.64 368.68,494.5 369.9,494.34 371.12,494.18 372.34,493.99 373.55,493.8 374.77,493.58 375.99,493.36 377.21,493.11 378.43,492.84 379.64,492.55 380.86,492.24 382.08,491.91 383.3,491.55 384.52,491.16 385.74,490.74 386.95,490.29 388.17,489.81 389.39,489.29 390.61,488.74 391.83,488.14 393.04,487.5 394.26,486.81 395.48,486.08 396.7,485.3 397.92,484.46 399.14,483.56 400.35,482.61 401.57,481.6 402.79,480.52 404.01,479.37 405.23,478.16 406.44,476.88 407.66,475.52 408.88,474.09 410.1,472.58 411.32,471 412.53,469.34 413.75,467.6 414.97,465.79 416.19,463.9 417.41,461.94 418.63,459.91 419.84,457.8 421.06,455.64 422.28,453.41 423.5,451.12 424.72,448.79 425.93,446.41 427.15,443.99 428.37,441.54 429.59,439.07 430.81,436.58 432.02,434.08 433.24,431.58 434.46,429.09 435.68,426.62 436.9,424.17 438.12,421.75 439.33,419.37 440.55,417.04 441.77,414.75 442.99,412.52 444.21,410.35 445.42,408.25 446.64,406.21 447.86,404.25 449.08,402.36 450.3,400.55 451.52,398.81 452.73,397.15 453.95,395.57 455.17,394.06 456.39,392.63 457.61,391.27 458.82,389.99 460.04,388.77 461.26,387.63 462.48,386.55 463.7,385.53 464.91,384.58 466.13,383.68 467.35,382.85 468.57,382.06 469.79,381.33 471.01,380.64 472.22,380 473.44,379.4 474.66,378.85 475.88,378.33 477.1,377.84 478.31,377.39 479.53,376.98 480.75,376.59 481.97,376.23 483.19,375.89 484.41,375.58 485.62,375.29 486.84,375.03 488.06,374.78 489.28,374.55 490.5,374.34 491.71,374.14 492.93,373.96 494.15,373.79 495.37,373.63 496.59,373.49 497.8,373.36 499.02,373.23 500.24,373.12 501.46,373.01 502.68,372.92" fill="none" stroke="#4c2468" stroke-width="1.0"/>
<polyline points="356.5,495.01 357.72,494.9 358.94,494.78 360.15,494.65 361.37,494.51 362.59,494.35 363.81,494.19 365.03,494.01 366.25,493.83 367.46,493.62 368.68,493.4 369.9,493.16 371.12,492.91 372.34,492.63 373.55,492.33 374.77,492.02 375.99,491.67 377.21,491.3 378.43,490.9 379.64,490.48 380.86,490.02 382.08,489.52 383.3,488.99 384.52,488.43 385.74,487.82 386.95,487.17 388.17,486.47 389.39,485.72 390.61,484.92 391.83,484.07 393.04,483.16 394.26,482.18 395.48,481.15 396.7,480.05 397.92,478.88 399.14,477.63 400.35,476.31 401.57,474.92 402.79,473.44 404.01,471.88 405.23,470.24 406.44,468.51 407.66,466.69 408.88,464.78 410.1,462.79 411.32,460.7 412.53,458.53 413.75,456.27 414.97,453.93 416.19,451.5 417.41,449 418.63,446.42 419.84,443.77 421.06,441.05 422.28,438.28 423.5,435.45 424.72,432.58 425.93,429.67 427.15,426.73 428.37,423.78 429.59,420.81 430.81,417.84 432.02,414.87 433.24,411.92 434.46,409 435.68,406.11 436.9,403.25 438.12,400.45 439.33,397.7 440.55,395.02 441.77,392.4 442.99,389.85 444.21,387.38 445.42,384.99 446.64,382.69 447.86,380.47 449.08,378.34 450.3,376.29 451.52,374.34 452.73,372.47 453.95,370.7 455.17,369.01 456.39,367.4 457.61,365.88 458.82,364.44 460.04,363.08 461.26,361.79 462.48,360.58 463.7,359.45 464.91,358.38 466.13,357.37 467.35,356.43 468.57,355.54 469.79,354.71 471.01,353.94 472.22,353.21 473.44,352.54 474.66,351.9 475.88,351.31 477.1,350.76 478.31,350.25 479.53,349.78 480.75,349.33 481.97,348.92 483.19,348.53 484.41,348.17 485.62,347.84 486.84,347.53 488.06,347.25 489.28,346.98 490.5,346.73 491.71,346.5 492.93,346.29 494.15,346.09 495.37,345.91 496.59,345.74 497.8,345.58 499.02,345.44 500.24,345.3 501.46,345.18 502.68,345.06" fill="none" stroke="#f3a23a" stroke-width="1.0"/>
<polyline points="356.5,495.08 357.72,494.97 358.94,494.85 360.15,494.71 361.37,494.57 362.59,494.42 363.81,494.25 365.03,494.07 366.25,493.87 367.46,493.66 368.68,493.43 369.9,493.18 371.12,492.91 372.34,492.62 373.55,492.31 374.77,491.97 375.99,491.6 377.21,491.2 378.43,490.78 379.64,490.31 380.86,489.81 382.08,489.27 383.3,488.69 384.52,488.07 385.74,487.4 386.95,486.67 388.17,485.89 389.39,485.06 390.61,484.16 391.83,483.2 393.04,482.16 394.26,481.06 395.48,479.88 396.7,478.62 397.92,477.27 399.14,475.84 400.35,474.32 401.57,472.7 402.79,470.98 404.01,469.16 405.23,467.24 406.44,465.22 407.66,463.08 408.88,460.84 410.1,458.49 411.32,456.03 412.53,453.47 413.75,450.8 414.97,448.03 416.19,445.16 417.41,442.2 418.63,439.16 419.84,436.03 421.06,432.83 422.28,429.57 423.5,426.25 424.72,422.89 425.93,419.49 427.15,416.07 428.37,412.64 429.59,409.21 430.81,405.79 432.02,402.39 433.24,399.03 434.46,395.71 435.68,392.44 436.9,389.24 438.12,386.11 439.33,383.06 440.55,380.1 441.77,377.23 442.99,374.46 444.21,371.79 445.42,369.22 446.64,366.76 447.86,364.41 449.08,362.16 450.3,360.03 451.52,358 452.73,356.07 453.95,354.25 455.17,352.53 456.39,350.91 457.61,349.39 458.82,347.95 460.04,346.6 461.26,345.34 462.48,344.16 463.7,343.05 464.91,342.02 466.13,341.05 467.35,340.15 468.57,339.32 469.79,338.54 471.01,337.81 472.22,337.14 473.44,336.51 474.66,335.93 475.88,335.39 477.1,334.89 478.31,334.42 479.53,334 480.75,333.6 481.97,333.23 483.19,332.89 484.41,332.57 485.62,332.28 486.84,332.01 488.06,331.76 489.28,331.53 490.5,331.32 491.71,331.12 492.93,330.94 494.15,330.77 495.37,330.62 496.59,330.48 497.8,330.35 499.02,330.22 500.24,330.11 501.46,330.01 502.68,329.91" fill="none" stroke="#3a9e3a" stroke-width="1.0"/>
<polyline points="356.5,494.89 357.72,494.77 358.94,494.63 360.15,494.48 361.37,494.32 362.59,494.14 363.81,493.95 365.03,493.75 366.25,493.53 367.46,493.29 368.68,493.02 369.9,492.74 371.12,492.44 372.34,492.11 373.55,491.75 374.77,491.37 375.99,490.95 377.21,490.5 378.43,490.02 379.64,489.49 380.86,488.93 382.08,488.32 383.3,487.67 384.52,486.96 385.74,486.2 386.95,485.39 388.17,484.51 389.39,483.57 390.61,482.56 391.83,481.48 393.04,480.32 394.26,479.08 395.48,477.76 396.7,476.35 397.92,474.85 399.14,473.25 400.35,471.55 401.57,469.74 402.79,467.83 404.01,465.81 405.23,463.68 406.44,461.44 407.66,459.08 408.88,456.61 410.1,454.02 411.32,451.31 412.53,448.5 413.75,445.57 414.97,442.54 416.19,439.41 417.41,436.19 418.63,432.88 419.84,429.49 421.06,426.03 422.28,422.5 423.5,418.93 424.72,415.32 425.93,411.68 427.15,408.02 428.37,404.36 429.59,400.71 430.81,397.08 432.02,393.48 433.24,389.92 434.46,386.42 435.68,382.99 436.9,379.62 438.12,376.35 439.33,373.16 440.55,370.07 441.77,367.08 442.99,364.19 444.21,361.42 445.42,358.76 446.64,356.22 447.86,353.79 449.08,351.47 450.3,349.27 451.52,347.18 452.73,345.21 453.95,343.34 455.17,341.58 456.39,339.91 457.61,338.35 458.82,336.88 460.04,335.51 461.26,334.22 462.48,333.01 463.7,331.88 464.91,330.83 466.13,329.85 467.35,328.93 468.57,328.08 469.79,327.29 471.01,326.55 472.22,325.86 473.44,325.23 474.66,324.63 475.88,324.09 477.1,323.58 478.31,323.11 479.53,322.67 480.75,322.27 481.97,321.89 483.19,321.55 484.41,321.23 485.62,320.93 486.84,320.66 488.06,320.41 489.28,320.17 490.5,319.96 491.71,319.76 492.93,319.57 494.15,319.4 495.37,319.25 496.59,319.1 497.8,318.97 499.02,318.85 500.24,318.73 501.46,318.63 502.68,318.53" fill="none" stroke="#c0103a" stroke-width="1.0"/>
<path d="M466.99 410.84V425.98M463.09 410.84h7.8M463.09 425.98h7.8M502.68 391V400.69M498.78 391h7.8M498.78 400.69h7.8" stroke="#1f4d80" stroke-width="1.1" fill="none"/>
<path d="M466.99 366.77V395.54M463.09 366.77h7.8M463.09 395.54h7.8M502.68 368.66V381.53M498.78 368.66h7.8M498.78 381.53h7.8" stroke="#4c2468" stroke-width="1.1" fill="none"/>
<path d="M466.99 351.47V371.16M463.09 351.47h7.8M463.09 371.16h7.8M502.68 333.6V353.29M498.78 333.6h7.8M498.78 353.29h7.8" stroke="#f3a23a" stroke-width="1.1" fill="none"/>
<path d="M466.99 328.3V351.02M463.09 328.3h7.8M463.09 351.02h7.8M502.68 325.27V337.39M498.78 325.27h7.8M498.78 337.39h7.8" stroke="#3a9e3a" stroke-width="1.1" fill="none"/>
<path d="M466.99 314.6V334.28M463.09 314.6h7.8M463.09 334.28h7.8M502.68 313.08V329.74M498.78 313.08h7.8M498.78 329.74h7.8" stroke="#c0103a" stroke-width="1.1" fill="none"/>
<path d="M359.89 492.95L363.34 496.4L359.89 499.85L356.44 496.4Z" fill="#1f5a96" stroke="#153e6a" stroke-width="0.5"/>
<path d="M395.58 486.51L399.03 489.96L395.58 493.41L392.13 489.96Z" fill="#1f5a96" stroke="#153e6a" stroke-width="0.5"/>
<path d="M431.3 451L434.75 454.45L431.3 457.9L427.85 454.45Z" fill="#1f5a96" stroke="#153e6a" stroke-width="0.5"/>
<path d="M466.99 414.96L470.44 418.41L466.99 421.86L463.54 418.41Z" fill="#1f5a96" stroke="#153e6a" stroke-width="0.5"/>
<path d="M502.68 392.39L506.13 395.84L502.68 399.29L499.23 395.84Z" fill="#1f5a96" stroke="#153e6a" stroke-width="0.5"/>
<path d="M359.89 499.11L363.19 492.84L356.59 492.84Z" fill="#4e2270" stroke="#3a1656" stroke-width="0.4"/>
<path d="M395.58 489.72L398.88 483.45L392.28 483.45Z" fill="#4e2270" stroke="#3a1656" stroke-width="0.4"/>
<path d="M431.3 439.29L434.6 433.02L428 433.02Z" fill="#4e2270" stroke="#3a1656" stroke-width="0.4"/>
<path d="M466.99 384.62L470.29 378.35L463.69 378.35Z" fill="#4e2270" stroke="#3a1656" stroke-width="0.4"/>
<path d="M502.68 378.56L505.98 372.29L499.38 372.29Z" fill="#4e2270" stroke="#3a1656" stroke-width="0.4"/>
<path d="M324.2 492.83L327.6 499.29L320.8 499.29Z" fill="#f7a11a" stroke="#e08a10" stroke-width="0.4"/>
<path d="M359.89 492.07L363.29 498.53L356.49 498.53Z" fill="#f7a11a" stroke="#e08a10" stroke-width="0.4"/>
<path d="M395.58 480.71L398.98 487.17L392.18 487.17Z" fill="#f7a11a" stroke="#e08a10" stroke-width="0.4"/>
<path d="M431.3 412.19L434.7 418.65L427.9 418.65Z" fill="#f7a11a" stroke="#e08a10" stroke-width="0.4"/>
<path d="M466.99 357.75L470.39 364.21L463.59 364.21Z" fill="#f7a11a" stroke="#e08a10" stroke-width="0.4"/>
<path d="M502.68 339.88L506.08 346.34L499.28 346.34Z" fill="#f7a11a" stroke="#e08a10" stroke-width="0.4"/>
<rect x="356.69" y="492.44" width="6.4" height="6.4" fill="#2fa73e" stroke="#1f7f2c" stroke-width="0.4"/>
<rect x="392.38" y="479.34" width="6.4" height="6.4" fill="#2fa73e" stroke="#1f7f2c" stroke-width="0.4"/>
<rect x="428.1" y="402.94" width="6.4" height="6.4" fill="#2fa73e" stroke="#1f7f2c" stroke-width="0.4"/>
<rect x="463.79" y="336.46" width="6.4" height="6.4" fill="#2fa73e" stroke="#1f7f2c" stroke-width="0.4"/>
<rect x="499.48" y="328.13" width="6.4" height="6.4" fill="#2fa73e" stroke="#1f7f2c" stroke-width="0.4"/>
<circle cx="359.89" cy="495.64" r="3.5" fill="#d0103a" stroke="#9c0c2a" stroke-width="0.5"/>
<circle cx="395.58" cy="477.39" r="3.5" fill="#d0103a" stroke="#9c0c2a" stroke-width="0.5"/>
<circle cx="431.3" cy="395.77" r="3.5" fill="#d0103a" stroke="#9c0c2a" stroke-width="0.5"/>
<circle cx="466.99" cy="324.44" r="3.5" fill="#d0103a" stroke="#9c0c2a" stroke-width="0.5"/>
<circle cx="502.68" cy="321.41" r="3.5" fill="#d0103a" stroke="#9c0c2a" stroke-width="0.5"/>
<path d="M325.7 317.8H336.5" stroke="#c0103a" stroke-width="1.1"/>
<circle cx="331.1" cy="317.8" r="3.32" fill="#d0103a" stroke="#9c0c2a" stroke-width="0.5"/>
<text x="339.4" y="320.35" font-size="8.3" fill="#3a3a3a" textLength="57.9" lengthAdjust="spacingAndGlyphs">[scFv3-1] 0 nM</text>
<path d="M325.7 330.8H336.5" stroke="#3a9e3a" stroke-width="1.1"/>
<rect x="328.06" y="327.76" width="6.08" height="6.08" fill="#2fa73e" stroke="#1f7f2c" stroke-width="0.4"/>
<text x="339.4" y="333.35" font-size="8.3" fill="#3a3a3a" textLength="69.1" lengthAdjust="spacingAndGlyphs">[scFv3-1] 1.11 nM</text>
<path d="M325.7 343.8H336.5" stroke="#f3a23a" stroke-width="1.1"/>
<path d="M331.1 340.41L334.33 346.55L327.87 346.55Z" fill="#f7a11a" stroke="#e08a10" stroke-width="0.4"/>
<text x="339.4" y="346.35" font-size="8.3" fill="#3a3a3a" textLength="69.5" lengthAdjust="spacingAndGlyphs">[scFv3-1] 3.33 nM</text>
<path d="M325.7 356.8H336.5" stroke="#4c2468" stroke-width="1.1"/>
<path d="M331.1 360.09L334.24 354.14L327.97 354.14Z" fill="#4e2270" stroke="#3a1656" stroke-width="0.4"/>
<text x="339.4" y="359.35" font-size="8.3" fill="#3a3a3a" textLength="62.2" lengthAdjust="spacingAndGlyphs">[scFv3-1] 10 nM</text>
<path d="M325.7 369.8H336.5" stroke="#1f4d80" stroke-width="1.1"/>
<path d="M331.1 366.52L334.38 369.8L331.1 373.08L327.82 369.8Z" fill="#1f5a96" stroke="#153e6a" stroke-width="0.5"/>
<text x="339.4" y="372.35" font-size="8.3" fill="#3a3a3a" textLength="62.2" lengthAdjust="spacingAndGlyphs">[scFv3-1] 30 nM</text>
</g>
<g id="pF">
<text transform="translate(281.4 562.5) scale(1.0 1)" font-size="13.6" font-weight="bold" fill="#000" stroke="#000" stroke-width="0.35">F</text>
<path d="M317.65 576.1V771.7M317.65 768.5H510.6" stroke="#0d0d0d" stroke-width="1.15" fill="none"/>
<path d="M314.04999999999995 768.5H317.65M314.04999999999995 730.64H317.65M314.04999999999995 692.78H317.65M314.04999999999995 654.92H317.65M314.04999999999995 617.06H317.65M314.04999999999995 579.2H317.65M328.15 768.5v3.0M335.37 768.5v3.0M341.27 768.5v3.0M346.26 768.5v3.0M350.58 768.5v3.0M354.39 768.5v3.0M357.8 768.5v3.7M380.23 768.5v3.0M393.35 768.5v3.0M402.65 768.5v3.0M409.87 768.5v3.0M415.77 768.5v3.0M420.76 768.5v3.0M425.08 768.5v3.0M428.89 768.5v3.0M432.3 768.5v3.7M454.73 768.5v3.0M467.85 768.5v3.0M477.15 768.5v3.0M484.37 768.5v3.0M490.27 768.5v3.0M495.26 768.5v3.0M499.58 768.5v3.0M503.39 768.5v3.0M506.8 768.5v3.7" stroke="#0d0d0d" stroke-width="1.05" fill="none"/>
<text x="310.45" y="771.55" font-size="9.8" text-anchor="end" fill="#2b2b2b" stroke="#2b2b2b" stroke-width="0.15">0.0</text>
<text x="310.45" y="733.69" font-size="9.8" text-anchor="end" fill="#2b2b2b" stroke="#2b2b2b" stroke-width="0.15">0.5</text>
<text x="310.45" y="695.83" font-size="9.8" text-anchor="end" fill="#2b2b2b" stroke="#2b2b2b" stroke-width="0.15">1.0</text>
<text x="310.45" y="657.97" font-size="9.8" text-anchor="end" fill="#2b2b2b" stroke="#2b2b2b" stroke-width="0.15">1.5</text>
<text x="310.45" y="620.11" font-size="9.8" text-anchor="end" fill="#2b2b2b" stroke="#2b2b2b" stroke-width="0.15">2.0</text>
<text x="310.45" y="582.25" font-size="9.8" text-anchor="end" fill="#2b2b2b" stroke="#2b2b2b" stroke-width="0.15">2.5</text>
<text x="317.65" y="783.35" font-size="9.8" text-anchor="middle" fill="#2b2b2b" stroke="#2b2b2b" stroke-width="0.15">0.03</text>
<text x="357.8" y="783.35" font-size="9.8" text-anchor="middle" fill="#2b2b2b" stroke="#2b2b2b" stroke-width="0.15">0.1</text>
<text x="432.3" y="783.35" font-size="9.8" text-anchor="middle" fill="#2b2b2b" stroke="#2b2b2b" stroke-width="0.15">1</text>
<text x="506.8" y="783.35" font-size="9.8" text-anchor="middle" fill="#2b2b2b" stroke="#2b2b2b" stroke-width="0.15">10</text>
<text x="412.4" y="798.9" font-size="9.7" text-anchor="middle" fill="#222" stroke="#222" stroke-width="0.3" textLength="82" lengthAdjust="spacingAndGlyphs">[FRETS-VWF73] (µM)</text>
<text transform="translate(290.8 674.5) rotate(-90)" x="0" y="0" font-size="9.4" text-anchor="middle" fill="#222" stroke="#222" stroke-width="0.35" textLength="72.5" lengthAdjust="spacingAndGlyphs">Velocity (ΔFU/sec)</text>
<polyline points="324.2,768.38 325.69,768.37 327.18,768.36 328.66,768.35 330.15,768.34 331.64,768.32 333.13,768.31 334.61,768.29 336.1,768.27 337.59,768.26 339.07,768.23 340.56,768.21 342.05,768.19 343.54,768.16 345.02,768.13 346.51,768.1 348,768.06 349.49,768.03 350.97,767.98 352.46,767.94 353.95,767.89 355.43,767.84 356.92,767.78 358.41,767.72 359.9,767.66 361.38,767.58 362.87,767.51 364.36,767.42 365.85,767.33 367.33,767.23 368.82,767.12 370.31,767.01 371.8,766.88 373.28,766.74 374.77,766.6 376.26,766.44 377.74,766.27 379.23,766.08 380.72,765.88 382.21,765.67 383.69,765.43 385.18,765.18 386.67,764.92 388.16,764.63 389.64,764.32 391.13,763.98 392.62,763.63 394.1,763.25 395.59,762.84 397.08,762.4 398.57,761.94 400.05,761.45 401.54,760.92 403.03,760.36 404.52,759.77 406,759.15 407.49,758.49 408.98,757.8 410.46,757.07 411.95,756.3 413.44,755.51 414.93,754.67 416.41,753.8 417.9,752.9 419.39,751.97 420.88,751.01 422.36,750.02 423.85,749.01 425.34,747.97 426.83,746.92 428.31,745.85 429.8,744.76 431.29,743.67 432.77,742.57 434.26,741.47 435.75,740.37 437.24,739.28 438.72,738.19 440.21,737.12 441.7,736.07 443.19,735.04 444.67,734.03 446.16,733.04 447.65,732.08 449.13,731.15 450.62,730.26 452.11,729.39 453.6,728.56 455.08,727.77 456.57,727.01 458.06,726.28 459.55,725.59 461.03,724.93 462.52,724.31 464.01,723.73 465.49,723.17 466.98,722.65 468.47,722.16 469.96,721.7 471.44,721.27 472.93,720.86 474.42,720.48 475.91,720.13 477.39,719.8 478.88,719.49 480.37,719.2 481.86,718.94 483.34,718.69 484.83,718.46 486.32,718.24 487.8,718.05 489.29,717.86 490.78,717.69 492.27,717.53 493.75,717.39 495.24,717.25 496.73,717.13 498.22,717.01 499.7,716.91 501.19,716.81 502.68,716.72" fill="none" stroke="#1f4d80" stroke-width="1.0"/>
<polyline points="324.2,768.44 325.69,768.44 327.18,768.43 328.66,768.42 330.15,768.41 331.64,768.4 333.13,768.39 334.61,768.38 336.1,768.37 337.59,768.35 339.07,768.34 340.56,768.32 342.05,768.3 343.54,768.28 345.02,768.26 346.51,768.23 348,768.21 349.49,768.18 350.97,768.14 352.46,768.1 353.95,768.06 355.43,768.02 356.92,767.97 358.41,767.91 359.9,767.85 361.38,767.78 362.87,767.7 364.36,767.62 365.85,767.53 367.33,767.42 368.82,767.31 370.31,767.19 371.8,767.05 373.28,766.9 374.77,766.73 376.26,766.55 377.74,766.35 379.23,766.13 380.72,765.89 382.21,765.62 383.69,765.32 385.18,765 386.67,764.64 388.16,764.26 389.64,763.83 391.13,763.36 392.62,762.85 394.1,762.3 395.59,761.69 397.08,761.03 398.57,760.31 400.05,759.53 401.54,758.69 403.03,757.77 404.52,756.78 406,755.72 407.49,754.58 408.98,753.35 410.46,752.04 411.95,750.65 413.44,749.17 414.93,747.6 416.41,745.94 417.9,744.2 419.39,742.38 420.88,740.48 422.36,738.5 423.85,736.47 425.34,734.37 426.83,732.22 428.31,730.03 429.8,727.8 431.29,725.56 432.77,723.31 434.26,721.06 435.75,718.83 437.24,716.62 438.72,714.44 440.21,712.31 441.7,710.23 443.19,708.22 444.67,706.27 446.16,704.4 447.65,702.61 449.13,700.9 450.62,699.28 452.11,697.75 453.6,696.3 455.08,694.94 456.57,693.66 458.06,692.47 459.55,691.36 461.03,690.32 462.52,689.36 464.01,688.48 465.49,687.66 466.98,686.9 468.47,686.21 469.96,685.57 471.44,684.98 472.93,684.44 474.42,683.95 475.91,683.5 477.39,683.09 478.88,682.71 480.37,682.37 481.86,682.06 483.34,681.78 484.83,681.52 486.32,681.28 487.8,681.07 489.29,680.87 490.78,680.7 492.27,680.54 493.75,680.39 495.24,680.26 496.73,680.14 498.22,680.03 499.7,679.94 501.19,679.85 502.68,679.77" fill="none" stroke="#4c2468" stroke-width="1.0"/>
<polyline points="324.2,768.34 325.69,768.32 327.18,768.31 328.66,768.29 330.15,768.27 331.64,768.24 333.13,768.22 334.61,768.19 336.1,768.16 337.59,768.13 339.07,768.09 340.56,768.05 342.05,768 343.54,767.95 345.02,767.9 346.51,767.84 348,767.77 349.49,767.7 350.97,767.62 352.46,767.54 353.95,767.44 355.43,767.34 356.92,767.22 358.41,767.1 359.9,766.96 361.38,766.81 362.87,766.64 364.36,766.46 365.85,766.26 367.33,766.04 368.82,765.8 370.31,765.54 371.8,765.26 373.28,764.94 374.77,764.6 376.26,764.23 377.74,763.82 379.23,763.37 380.72,762.88 382.21,762.35 383.69,761.77 385.18,761.14 386.67,760.46 388.16,759.71 389.64,758.9 391.13,758.03 392.62,757.08 394.1,756.06 395.59,754.95 397.08,753.77 398.57,752.49 400.05,751.11 401.54,749.64 403.03,748.07 404.52,746.4 406,744.62 407.49,742.73 408.98,740.74 410.46,738.63 411.95,736.42 413.44,734.11 414.93,731.69 416.41,729.18 417.9,726.57 419.39,723.88 420.88,721.12 422.36,718.3 423.85,715.42 425.34,712.5 426.83,709.54 428.31,706.58 429.8,703.6 431.29,700.64 432.77,697.7 434.26,694.8 435.75,691.95 437.24,689.15 438.72,686.42 440.21,683.78 441.7,681.22 443.19,678.75 444.67,676.38 446.16,674.12 447.65,671.96 449.13,669.9 450.62,667.96 452.11,666.13 453.6,664.4 455.08,662.78 456.57,661.26 458.06,659.83 459.55,658.51 461.03,657.27 462.52,656.13 464.01,655.06 465.49,654.08 466.98,653.17 468.47,652.33 469.96,651.55 471.44,650.83 472.93,650.18 474.42,649.57 475.91,649.02 477.39,648.51 478.88,648.04 480.37,647.61 481.86,647.22 483.34,646.86 484.83,646.53 486.32,646.23 487.8,645.96 489.29,645.71 490.78,645.48 492.27,645.27 493.75,645.08 495.24,644.91 496.73,644.75 498.22,644.6 499.7,644.47 501.19,644.35 502.68,644.24" fill="none" stroke="#f3a23a" stroke-width="1.0"/>
<polyline points="324.2,768.31 325.69,768.29 327.18,768.27 328.66,768.25 330.15,768.22 331.64,768.19 333.13,768.16 334.61,768.13 336.1,768.09 337.59,768.05 339.07,768.01 340.56,767.96 342.05,767.91 343.54,767.85 345.02,767.79 346.51,767.72 348,767.64 349.49,767.55 350.97,767.46 352.46,767.36 353.95,767.25 355.43,767.13 356.92,766.99 358.41,766.84 359.9,766.68 361.38,766.5 362.87,766.31 364.36,766.1 365.85,765.86 367.33,765.61 368.82,765.33 370.31,765.02 371.8,764.68 373.28,764.32 374.77,763.91 376.26,763.48 377.74,763 379.23,762.48 380.72,761.91 382.21,761.28 383.69,760.61 385.18,759.87 386.67,759.07 388.16,758.21 389.64,757.27 391.13,756.25 392.62,755.14 394.1,753.95 395.59,752.67 397.08,751.28 398.57,749.79 400.05,748.2 401.54,746.49 403.03,744.66 404.52,742.71 406,740.64 407.49,738.45 408.98,736.13 410.46,733.68 411.95,731.1 413.44,728.41 414.93,725.6 416.41,722.67 417.9,719.63 419.39,716.5 420.88,713.28 422.36,709.98 423.85,706.62 425.34,703.21 426.83,699.76 428.31,696.28 429.8,692.8 431.29,689.33 432.77,685.88 434.26,682.48 435.75,679.12 437.24,675.83 438.72,672.62 440.21,669.5 441.7,666.47 443.19,663.56 444.67,660.76 446.16,658.08 447.65,655.52 449.13,653.08 450.62,650.77 452.11,648.59 453.6,646.54 455.08,644.6 456.57,642.79 458.06,641.09 459.55,639.51 461.03,638.03 462.52,636.66 464.01,635.38 465.49,634.2 466.98,633.11 468.47,632.1 469.96,631.16 471.44,630.3 472.93,629.51 474.42,628.78 475.91,628.11 477.39,627.5 478.88,626.93 480.37,626.42 481.86,625.94 483.34,625.51 484.83,625.11 486.32,624.75 487.8,624.41 489.29,624.11 490.78,623.83 492.27,623.58 493.75,623.35 495.24,623.14 496.73,622.94 498.22,622.77 499.7,622.61 501.19,622.46 502.68,622.33" fill="none" stroke="#3a9e3a" stroke-width="1.0"/>
<polyline points="324.2,768.24 325.69,768.22 327.18,768.19 328.66,768.16 330.15,768.13 331.64,768.09 333.13,768.05 334.61,768.01 336.1,767.96 337.59,767.9 339.07,767.85 340.56,767.78 342.05,767.71 343.54,767.64 345.02,767.55 346.51,767.46 348,767.36 349.49,767.25 350.97,767.13 352.46,766.99 353.95,766.85 355.43,766.69 356.92,766.51 358.41,766.32 359.9,766.11 361.38,765.88 362.87,765.62 364.36,765.35 365.85,765.05 367.33,764.72 368.82,764.36 370.31,763.96 371.8,763.53 373.28,763.06 374.77,762.54 376.26,761.98 377.74,761.37 379.23,760.71 380.72,759.99 382.21,759.2 383.69,758.34 385.18,757.41 386.67,756.41 388.16,755.32 389.64,754.14 391.13,752.86 392.62,751.49 394.1,750.01 395.59,748.42 397.08,746.71 398.57,744.88 400.05,742.92 401.54,740.83 403.03,738.6 404.52,736.24 406,733.74 407.49,731.1 408.98,728.32 410.46,725.4 411.95,722.35 413.44,719.17 414.93,715.86 416.41,712.44 417.9,708.91 419.39,705.28 420.88,701.57 422.36,697.8 423.85,693.97 425.34,690.1 426.83,686.2 428.31,682.3 429.8,678.42 431.29,674.56 432.77,670.75 434.26,667 435.75,663.32 437.24,659.73 438.72,656.24 440.21,652.86 441.7,649.6 443.19,646.47 444.67,643.47 446.16,640.6 447.65,637.88 449.13,635.29 450.62,632.84 452.11,630.53 453.6,628.36 455.08,626.32 456.57,624.42 458.06,622.63 459.55,620.97 461.03,619.42 462.52,617.98 464.01,616.65 465.49,615.41 466.98,614.26 468.47,613.21 469.96,612.23 471.44,611.33 472.93,610.5 474.42,609.74 475.91,609.04 477.39,608.4 478.88,607.81 480.37,607.27 481.86,606.77 483.34,606.31 484.83,605.9 486.32,605.52 487.8,605.17 489.29,604.85 490.78,604.56 492.27,604.29 493.75,604.05 495.24,603.82 496.73,603.62 498.22,603.43 499.7,603.26 501.19,603.11 502.68,602.97" fill="none" stroke="#c0103a" stroke-width="1.0"/>
<path d="M431.3 736.85V748.66M427.4 736.85h7.8M427.4 748.66h7.8M466.99 722.77V731.85M463.09 722.77h7.8M463.09 731.85h7.8M502.68 697.7V726.48M498.78 697.7h7.8M498.78 726.48h7.8" stroke="#1f4d80" stroke-width="1.1" fill="none"/>
<path d="M466.99 668.1V701.41M463.09 668.1h7.8M463.09 701.41h7.8M502.68 676.8V688.92M498.78 676.8h7.8M498.78 688.92h7.8" stroke="#4c2468" stroke-width="1.1" fill="none"/>
<path d="M431.3 695.2V702.78M427.4 695.2h7.8M427.4 702.78h7.8M466.99 648.33V661.96M463.09 648.33h7.8M463.09 661.96h7.8M502.68 629.48V655.22M498.78 629.48h7.8M498.78 655.22h7.8" stroke="#f3a23a" stroke-width="1.1" fill="none"/>
<path d="M431.3 686.27V693.84M427.4 686.27h7.8M427.4 693.84h7.8M466.99 622.06V644.77M463.09 622.06h7.8M463.09 644.77h7.8M502.68 616.68V634.4M498.78 616.68h7.8M498.78 634.4h7.8" stroke="#3a9e3a" stroke-width="1.1" fill="none"/>
<path d="M466.99 608.66V617.74M463.09 608.66h7.8M463.09 617.74h7.8M502.68 590.33V619.1M498.78 590.33h7.8M498.78 619.1h7.8" stroke="#c0103a" stroke-width="1.1" fill="none"/>
<path d="M324.2 765.05L327.65 768.5L324.2 771.95L320.75 768.5Z" fill="#1f5a96" stroke="#153e6a" stroke-width="0.5"/>
<path d="M359.89 765.05L363.34 768.5L359.89 771.95L356.44 768.5Z" fill="#1f5a96" stroke="#153e6a" stroke-width="0.5"/>
<path d="M395.58 760.13L399.03 763.58L395.58 767.03L392.13 763.58Z" fill="#1f5a96" stroke="#153e6a" stroke-width="0.5"/>
<path d="M431.3 739.31L434.75 742.76L431.3 746.21L427.85 742.76Z" fill="#1f5a96" stroke="#153e6a" stroke-width="0.5"/>
<path d="M466.99 723.86L470.44 727.31L466.99 730.76L463.54 727.31Z" fill="#1f5a96" stroke="#153e6a" stroke-width="0.5"/>
<path d="M502.68 708.64L506.13 712.09L502.68 715.54L499.23 712.09Z" fill="#1f5a96" stroke="#153e6a" stroke-width="0.5"/>
<path d="M324.2 771.97L327.5 765.7L320.9 765.7Z" fill="#4e2270" stroke="#3a1656" stroke-width="0.4"/>
<path d="M359.89 771.21L363.19 764.94L356.59 764.94Z" fill="#4e2270" stroke="#3a1656" stroke-width="0.4"/>
<path d="M395.58 764.09L398.88 757.82L392.28 757.82Z" fill="#4e2270" stroke="#3a1656" stroke-width="0.4"/>
<path d="M431.3 729.94L434.6 723.67L428 723.67Z" fill="#4e2270" stroke="#3a1656" stroke-width="0.4"/>
<path d="M466.99 688.22L470.29 681.95L463.69 681.95Z" fill="#4e2270" stroke="#3a1656" stroke-width="0.4"/>
<path d="M502.68 686.33L505.98 680.06L499.38 680.06Z" fill="#4e2270" stroke="#3a1656" stroke-width="0.4"/>
<path d="M324.2 764.93L327.6 771.39L320.8 771.39Z" fill="#f7a11a" stroke="#e08a10" stroke-width="0.4"/>
<path d="M359.89 764.17L363.29 770.63L356.49 770.63Z" fill="#f7a11a" stroke="#e08a10" stroke-width="0.4"/>
<path d="M395.58 753.34L398.98 759.8L392.18 759.8Z" fill="#f7a11a" stroke="#e08a10" stroke-width="0.4"/>
<path d="M431.3 695.42L434.7 701.88L427.9 701.88Z" fill="#f7a11a" stroke="#e08a10" stroke-width="0.4"/>
<path d="M466.99 651.58L470.39 658.04L463.59 658.04Z" fill="#f7a11a" stroke="#e08a10" stroke-width="0.4"/>
<path d="M502.68 638.78L506.08 645.24L499.28 645.24Z" fill="#f7a11a" stroke="#e08a10" stroke-width="0.4"/>
<rect x="321" y="765.3" width="6.4" height="6.4" fill="#2fa73e" stroke="#1f7f2c" stroke-width="0.4"/>
<rect x="356.69" y="764.54" width="6.4" height="6.4" fill="#2fa73e" stroke="#1f7f2c" stroke-width="0.4"/>
<rect x="392.38" y="749.17" width="6.4" height="6.4" fill="#2fa73e" stroke="#1f7f2c" stroke-width="0.4"/>
<rect x="428.1" y="686.85" width="6.4" height="6.4" fill="#2fa73e" stroke="#1f7f2c" stroke-width="0.4"/>
<rect x="463.79" y="630.22" width="6.4" height="6.4" fill="#2fa73e" stroke="#1f7f2c" stroke-width="0.4"/>
<rect x="499.48" y="622.34" width="6.4" height="6.4" fill="#2fa73e" stroke="#1f7f2c" stroke-width="0.4"/>
<circle cx="324.2" cy="768.5" r="3.5" fill="#d0103a" stroke="#9c0c2a" stroke-width="0.5"/>
<circle cx="359.89" cy="767.74" r="3.5" fill="#d0103a" stroke="#9c0c2a" stroke-width="0.5"/>
<circle cx="395.58" cy="747.98" r="3.5" fill="#d0103a" stroke="#9c0c2a" stroke-width="0.5"/>
<circle cx="431.3" cy="674.53" r="3.5" fill="#d0103a" stroke="#9c0c2a" stroke-width="0.5"/>
<circle cx="466.99" cy="613.2" r="3.5" fill="#d0103a" stroke="#9c0c2a" stroke-width="0.5"/>
<circle cx="502.68" cy="604.72" r="3.5" fill="#d0103a" stroke="#9c0c2a" stroke-width="0.5"/>
<path d="M325.7 589.9H336.5" stroke="#c0103a" stroke-width="1.1"/>
<circle cx="331.1" cy="589.9" r="3.32" fill="#d0103a" stroke="#9c0c2a" stroke-width="0.5"/>
<text x="339.4" y="592.45" font-size="8.3" fill="#3a3a3a" textLength="62.2" lengthAdjust="spacingAndGlyphs">[scFv4-16] 0 nM</text>
<path d="M325.7 602.9H336.5" stroke="#3a9e3a" stroke-width="1.1"/>
<rect x="328.06" y="599.86" width="6.08" height="6.08" fill="#2fa73e" stroke="#1f7f2c" stroke-width="0.4"/>
<text x="339.4" y="605.45" font-size="8.3" fill="#3a3a3a" textLength="74.3" lengthAdjust="spacingAndGlyphs">[scFv4-16] 1.11 nM</text>
<path d="M325.7 615.9H336.5" stroke="#f3a23a" stroke-width="1.1"/>
<path d="M331.1 612.51L334.33 618.65L327.87 618.65Z" fill="#f7a11a" stroke="#e08a10" stroke-width="0.4"/>
<text x="339.4" y="618.45" font-size="8.3" fill="#3a3a3a" textLength="74.3" lengthAdjust="spacingAndGlyphs">[scFv4-16] 3.33 nM</text>
<path d="M325.7 628.9H336.5" stroke="#4c2468" stroke-width="1.1"/>
<path d="M331.1 632.19L334.24 626.24L327.97 626.24Z" fill="#4e2270" stroke="#3a1656" stroke-width="0.4"/>
<text x="339.4" y="631.45" font-size="8.3" fill="#3a3a3a" textLength="67.2" lengthAdjust="spacingAndGlyphs">[scFv4-16] 10 nM</text>
<path d="M325.7 641.9H336.5" stroke="#1f4d80" stroke-width="1.1"/>
<path d="M331.1 638.62L334.38 641.9L331.1 645.18L327.82 641.9Z" fill="#1f5a96" stroke="#153e6a" stroke-width="0.5"/>
<text x="339.4" y="644.45" font-size="8.3" fill="#3a3a3a" textLength="67.2" lengthAdjust="spacingAndGlyphs">[scFv4-16] 30 nM</text>
</g>
</svg>
</body></html>
